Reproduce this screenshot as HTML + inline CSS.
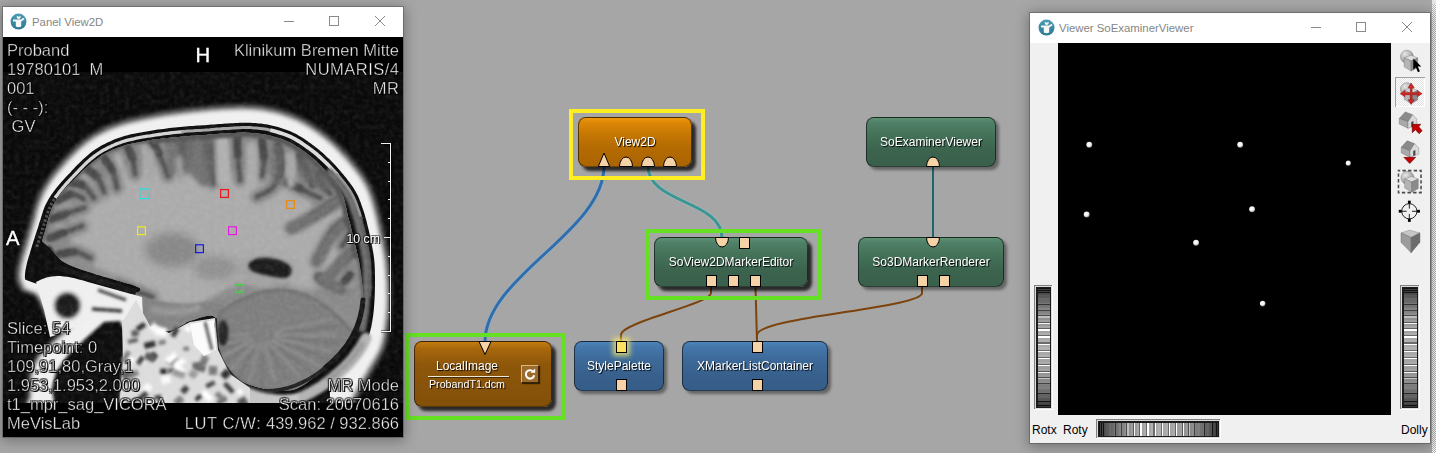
<!DOCTYPE html>
<html><head><meta charset="utf-8"><title>MeVisLab</title>
<style>
html,body{margin:0;padding:0;}
body{width:1436px;height:453px;overflow:hidden;background:#a6a6a6;position:relative;font-family:"Liberation Sans",sans-serif;}
.abs{position:absolute;}
.win{position:absolute;background:#fff;box-shadow:0 0 0 1px rgba(0,0,0,0.22),0 2px 12px 2px rgba(0,0,0,0.30);}
.title{position:absolute;left:0;top:0;right:0;height:30px;background:#fff;}
.title .txt{position:absolute;top:0;height:30px;line-height:30px;font-size:11.4px;color:#858585;white-space:nowrap;}
.ctl{position:absolute;top:0;height:30px;}
/* nodes */
.node{position:absolute;border-radius:8px;box-sizing:border-box;border:1px solid rgba(0,0,0,0.55);}
.node .lbl{position:absolute;left:0;right:0;text-align:center;color:#fff;font-size:12px;line-height:14px;white-space:nowrap;text-shadow:1px 1px 1px rgba(0,0,0,0.95);opacity:.999;}
.orange{background:linear-gradient(#f29a0c 0%,#de8808 8%,#c97a04 30%,#b56b02 60%,#aa6402 100%);}
.brown{background:linear-gradient(#c47c10 0%,#a8680c 10%,#8e570a 35%,#83500a 100%);}
.green{background:linear-gradient(#5c9174 0%,#4f8067 10%,#447259 35%,#3b634d 70%,#3a604b 100%);}
.blue{background:linear-gradient(#4e84bb 0%,#4577ab 10%,#3d6a9a 35%,#38608c 70%,#365d88 100%);}
.sel{box-shadow:4px 4px 3px rgba(0,0,0,0.75);}
.unsel{box-shadow:3px 3px 3px rgba(0,0,0,0.40);}
.hl{position:absolute;box-sizing:border-box;border:4px solid #66e022;}
.hl.y{border-color:#ffee22;}
.sq{position:absolute;width:11px;height:12px;box-sizing:border-box;border:1px solid #000;background:#f5d3a6;}
/* mri text */
.mt{position:absolute;color:#f4f4f4;font-size:16.5px;line-height:19px;white-space:pre;-webkit-text-stroke:0.45px rgba(0,0,0,.85);text-shadow:1px 1px 0 #000,-1px -1px 0 rgba(0,0,0,.45),1px -1px 0 rgba(0,0,0,.45),-1px 1px 0 rgba(0,0,0,.45);}
.mt{opacity:.999;}
.mt.big{font-size:20.3px;line-height:24px;color:#fff;-webkit-text-stroke:0.35px #fff;}
.mt.r{text-align:right;right:4px;}
.ui{font-size:12px;color:#000;position:absolute;white-space:nowrap;}
</style></head>
<body>
<!-- NETWORK -->
<svg class="abs" style="left:0;top:0" width="1436" height="453" viewBox="0 0 1436 453">
  <g fill="none" stroke-linecap="round">
    <path d="M604 166 C604 232 485 276 485 342" stroke="#8fb3d6" stroke-width="4.6" opacity=".55"/>
    <path d="M604 166 C604 232 485 276 485 342" stroke="#2f6dab" stroke-width="3"/>
    <path d="M648 166 C648 204 722 200 722 238" stroke="#9ccaca" stroke-width="4.6" opacity=".5"/>
    <path d="M648 166 C648 204 722 200 722 238" stroke="#3d9495" stroke-width="3"/>
    <path d="M933 166 L933 238" stroke="#1f666b" stroke-width="2"/>
    <path d="M711 286 L711 293 C711 304 621 322 621 335 L621 342" stroke="#7c430d" stroke-width="2"/>
    <path d="M755.5 286 L757 342" stroke="#7c430d" stroke-width="2"/>
    <path d="M922 286 L922 293 C922 308 757 317 757 335 L757 342" stroke="#7c430d" stroke-width="2"/>
  </g>
</svg>
<!-- View2D -->
<div class="hl y" style="left:569px;top:109px;width:136px;height:71px;"></div>
<div class="node orange sel" style="left:578px;top:117px;width:114px;height:50px;">
  <div class="lbl" style="top:17px;">View2D</div>
</div>
<svg class="abs" style="left:590px;top:150px" width="100" height="20" viewBox="590 150 100 20">
  <g fill="#f5d3a6" stroke="#000" stroke-width="1">
    <path d="M598.3 166.5 L604 153 L609.7 166.5 Z"/>
    <path d="M619.5 166.5 A6.5 9.5 0 0 1 632.5 166.5 Z"/>
    <path d="M641.5 166.5 A6.5 9.5 0 0 1 654.5 166.5 Z"/>
    <path d="M663.5 166.5 A6.5 9.5 0 0 1 676.5 166.5 Z"/>
  </g>
</svg>
<!-- SoExaminerViewer -->
<div class="node green unsel" style="left:866px;top:117px;width:130px;height:50px;">
  <div class="lbl" style="top:17px;">SoExaminerViewer</div>
</div>
<svg class="abs" style="left:920px;top:150px" width="30" height="20" viewBox="920 150 30 20">
  <path d="M926.5 166.5 A6.5 9.5 0 0 1 939.5 166.5 Z" fill="#f5d3a6" stroke="#000"/>
</svg>
<!-- SoView2DMarkerEditor -->
<div class="hl" style="left:645px;top:229px;width:176px;height:71px;"></div>
<div class="node green sel" style="left:654px;top:237px;width:154px;height:50px;">
  <div class="lbl" style="top:17px;">SoView2DMarkerEditor</div>
</div>
<svg class="abs" style="left:710px;top:236px" width="30" height="14" viewBox="710 236 30 14">
  <path d="M715.5 237.5 A6.5 9.5 0 0 0 728.5 237.5 Z" fill="#f5d3a6" stroke="#000"/>
</svg>
<div class="sq" style="left:739px;top:237px;"></div>
<div class="sq" style="left:706px;top:275px;"></div>
<div class="sq" style="left:728px;top:275px;"></div>
<div class="sq" style="left:750px;top:275px;"></div>
<!-- So3DMarkerRenderer -->
<div class="node green unsel" style="left:858px;top:237px;width:146px;height:50px;">
  <div class="lbl" style="top:17px;">So3DMarkerRenderer</div>
</div>
<svg class="abs" style="left:920px;top:236px" width="30" height="14" viewBox="920 236 30 14">
  <path d="M926.5 237.5 A6.5 9.5 0 0 0 939.5 237.5 Z" fill="#f5d3a6" stroke="#000"/>
</svg>
<div class="sq" style="left:917px;top:275px;"></div>
<div class="sq" style="left:939px;top:275px;"></div>
<!-- LocalImage -->
<div class="hl" style="left:405px;top:333px;width:161px;height:87px;"></div>
<div class="node brown sel" style="left:414px;top:341px;width:138px;height:66px;">
  <div class="lbl" style="top:17px;left:0;right:32px;">LocalImage</div>
  <div class="abs" style="left:13px;top:33.5px;width:81px;height:1px;background:#f0e6d6;box-shadow:1px 1px 0 rgba(0,0,0,.5);"></div>
  <div class="lbl" style="top:35px;left:0;right:32px;font-size:10.7px;">ProbandT1.dcm</div>
  <div class="abs" style="left:106px;top:23px;width:18px;height:18px;box-sizing:border-box;background:#9b6b2c;border:1px solid;border-color:#dcb680 #3a2408 #3a2408 #dcb680;box-shadow:1px 1px 1px rgba(0,0,0,.6);">
    <svg class="abs" style="left:1px;top:1px" width="14" height="14" viewBox="0 0 14 14"><path d="M10.2 4.6 A4.2 4.2 0 1 0 11.2 8.2" fill="none" stroke="#fff" stroke-width="2"/><path d="M7.6 5.8 L12.2 5.8 L12.2 1.4 Z" fill="#fff"/></svg>
  </div>
</div>
<svg class="abs" style="left:475px;top:338px" width="20" height="20" viewBox="475 338 20 20">
  <path d="M479 341.5 L491 341.5 L485 354.5 Z" fill="#f5d3a6" stroke="#000"/>
</svg>
<!-- StylePalette -->
<div class="node blue unsel" style="left:574px;top:341px;width:90px;height:50px;">
  <div class="lbl" style="top:17px;">StylePalette</div>
</div>
<div class="sq" style="left:616px;top:341px;background:#fbe15f;box-shadow:0 0 5px 3px rgba(255,236,100,.75);"></div>
<div class="sq" style="left:616px;top:379px;"></div>
<!-- XMarkerListContainer -->
<div class="node blue unsel" style="left:682px;top:341px;width:146px;height:50px;">
  <div class="lbl" style="top:17px;">XMarkerListContainer</div>
</div>
<div class="sq" style="left:752px;top:341px;"></div>
<div class="sq" style="left:752px;top:379px;"></div>
<!-- LEFT WINDOW: Panel View2D -->
<div class="win" style="left:3px;top:7px;width:400px;height:430px;">
  <div class="title">
    <svg class="abs" style="left:7.1px;top:5.5px" width="17" height="17" viewBox="0 0 17 17">
      <defs><linearGradient id="ig" x1="0" y1="0" x2="0" y2="1"><stop offset="0" stop-color="#4b9bb4"/><stop offset="1" stop-color="#2b7893"/></linearGradient></defs>
      <circle cx="8.5" cy="8.55" r="7.95" fill="url(#ig)"/>
      <path d="M3.0 6.5 L10.9 6.4 L13.5 4.7 L14.6 6.3 L11.2 8.5 L11.2 13.5 Q8.5 14.9 5.8 13.5 L5.8 8.4 L3.0 8.4 Z" fill="#f6f6f6"/>
      <path d="M6.7 2.8 L8.7 3.8 L10.7 2.8 L10.5 5.1 Q8.7 6.8 6.9 5.1 Z" fill="#f6f6f6"/>
    </svg>
    <div class="txt" style="left:29px;">Panel View2D</div>
    <svg class="ctl" style="left:270px;" width="130" height="30" viewBox="0 0 130 30">
      <g stroke="#8a8a8a" stroke-width="1" fill="none" shape-rendering="crispEdges">
        <line x1="11" y1="14.5" x2="21" y2="14.5"/>
        <rect x="56.5" y="9.5" width="9" height="9"/>
      </g>
      <g stroke="#8a8a8a" stroke-width="1" fill="none">
        <line x1="102" y1="9" x2="112" y2="19"/><line x1="112" y1="9" x2="102" y2="19"/>
      </g>
    </svg>
  </div>
  <div class="abs" style="left:0;top:30px;width:400px;height:400px;background:#000;overflow:hidden;">
    <svg class="abs" style="left:0;top:0" width="400" height="399" viewBox="3 37 400 399">
<defs>
<filter id="b1" filterUnits="userSpaceOnUse" x="3" y="37" width="400" height="399"><feGaussianBlur stdDeviation="0.75"/></filter>
<filter id="b2" filterUnits="userSpaceOnUse" x="3" y="37" width="400" height="399"><feGaussianBlur stdDeviation="2.2"/></filter>
<filter id="b3" filterUnits="userSpaceOnUse" x="3" y="37" width="400" height="399"><feGaussianBlur stdDeviation="1.4"/></filter>
<filter id="b4" filterUnits="userSpaceOnUse" x="3" y="37" width="400" height="399"><feGaussianBlur stdDeviation="2.7"/></filter>
<filter id="b5" filterUnits="userSpaceOnUse" x="3" y="37" width="400" height="399"><feGaussianBlur stdDeviation="4"/></filter>
<filter id="nz" x="0" y="0" width="100%" height="100%"><feTurbulence type="fractalNoise" baseFrequency="0.2" numOctaves="2" seed="3"/><feColorMatrix type="matrix" values="0 0 0 0 1  0 0 0 0 1  0 0 0 0 1  .10 .10 0 0 -.082"/></filter>
<clipPath id="imgclip"><rect x="3" y="72" width="400" height="331"/></clipPath>
<clipPath id="brainclip"><path d="M42.1 241.3 L42.7 239.1 L43.3 236.8 L43.9 234.6 L44.6 232.3 L45.2 230.1 L45.8 227.9 L46.3 225.7 L47.0 223.4 L47.7 221.2 L48.3 219.1 L48.8 217.2 L49.4 215.3 L49.9 213.6 L50.4 212.0 L50.9 210.5 L51.4 209.1 L52.0 207.7 L52.8 206.1 L53.6 204.6 L54.5 203.1 L55.3 201.6 L56.2 200.3 L57.1 198.9 L58.0 197.6 L58.9 196.2 L59.9 194.9 L61.0 193.5 L62.2 192.1 L63.5 190.6 L64.9 189.1 L66.4 187.5 L67.9 185.8 L69.6 184.1 L71.2 182.4 L72.9 180.7 L74.7 179.0 L76.4 177.3 L78.1 175.6 L79.9 173.8 L81.6 172.0 L83.4 170.3 L85.2 168.6 L87.0 167.0 L88.7 165.4 L90.4 163.9 L92.0 162.6 L93.6 161.4 L95.1 160.1 L96.7 159.0 L98.1 157.9 L99.5 156.9 L100.9 156.0 L102.3 155.1 L103.7 154.3 L105.2 153.5 L106.7 152.6 L108.4 151.8 L110.1 151.0 L111.9 150.1 L113.8 149.3 L115.7 148.6 L117.6 147.8 L119.6 147.1 L121.6 146.4 L123.7 145.7 L125.8 145.0 L128.0 144.4 L130.1 143.9 L132.4 143.4 L134.8 142.9 L137.3 142.4 L139.9 141.9 L142.7 141.4 L145.4 141.0 L148.3 140.5 L151.1 140.1 L154.0 139.6 L156.7 139.2 L159.4 138.9 L162.2 138.6 L165.0 138.2 L167.9 137.9 L170.7 137.6 L173.5 137.4 L176.3 137.1 L179.1 136.9 L181.7 136.6 L184.3 136.4 L186.7 136.2 L189.1 136.0 L191.5 135.8 L193.8 135.7 L196.2 135.5 L198.5 135.4 L200.8 135.2 L203.2 135.1 L205.6 135.0 L208.0 134.8 L210.4 134.5 L212.8 134.3 L215.1 134.1 L217.4 134.0 L219.6 133.8 L221.9 133.6 L224.1 133.5 L226.3 133.4 L228.5 133.3 L230.9 133.1 L233.3 133.0 L235.6 132.9 L237.8 132.8 L239.9 132.7 L242.0 132.6 L244.0 132.6 L245.9 132.6 L247.8 132.7 L249.6 132.7 L251.6 132.9 L253.7 133.0 L255.8 133.2 L257.8 133.4 L259.7 133.7 L261.7 133.9 L263.5 134.2 L265.4 134.6 L267.2 135.0 L269.0 135.4 L270.9 135.8 L272.9 136.3 L274.9 136.9 L276.9 137.5 L279.0 138.2 L281.0 138.8 L283.0 139.6 L284.9 140.3 L286.8 141.0 L288.5 141.7 L290.0 142.5 L291.4 143.2 L292.7 143.9 L294.1 144.7 L295.5 145.6 L296.9 146.4 L298.4 147.4 L299.9 148.5 L301.5 149.6 L303.2 150.8 L304.9 152.0 L306.5 153.2 L308.1 154.4 L309.6 155.6 L311.2 156.8 L312.6 158.1 L314.1 159.3 L315.6 160.6 L317.0 162.0 L318.5 163.3 L320.0 164.9 L321.5 166.5 L323.1 168.3 L324.8 170.1 L326.4 172.0 L328.0 173.9 L329.6 175.8 L331.2 177.7 L332.7 179.6 L334.1 181.4 L335.4 183.4 L336.7 185.3 L338.0 187.2 L339.1 188.9 L340.1 190.6 L341.0 192.2 L341.8 193.8 L342.6 195.2 L343.2 196.6 L343.7 197.9 L344.1 199.2 L344.5 200.6 L344.9 202.0 L345.2 203.5 L345.6 205.1 L346.0 206.9 L346.4 208.9 L346.8 211.0 L347.2 213.3 L347.7 215.6 L348.3 217.7 L348.9 219.7 L349.5 221.8 L350.1 224.1 L350.7 226.4 L351.2 228.8 L351.8 231.3 L352.4 233.9 L353.0 236.6 L353.7 239.4 L354.4 242.3 L355.1 245.1 L355.8 247.8 L356.5 250.4 L357.1 252.9 L357.7 255.4 L358.3 257.8 L358.8 260.3 L359.3 262.8 L359.7 265.4 L360.2 268.4 L360.7 271.7 L361.2 275.1 L361.6 278.8 L362.0 282.5 L362.4 286.2 L362.8 289.8 L363.1 293.4 L363.3 296.7 L363.5 299.8 L362.0 300.0 L361.4 305.0 L361.1 310.0 L360.8 314.9 L360.1 319.9 L359.0 324.9 L357.0 330.0 L354.0 335.2 L350.3 340.5 L346.1 345.8 L341.4 351.1 L336.7 356.2 L332.0 361.0 L327.2 365.8 L322.1 370.5 L316.8 375.2 L311.6 379.4 L306.6 383.1 L302.0 386.0 L298.0 388.1 L294.4 389.4 L291.0 390.2 L287.6 390.5 L284.0 390.6 L280.0 390.5 L275.4 390.3 L270.3 389.7 L265.0 388.9 L259.7 387.8 L254.6 386.5 L250.0 385.0 L245.8 383.3 L241.9 381.5 L238.2 379.4 L234.7 377.0 L231.5 374.4 L228.7 371.5 L226.2 368.2 L224.0 364.7 L222.1 360.8 L220.4 356.8 L219.0 352.5 L217.8 348.0 L217.1 342.9 L217.1 336.9 L217.2 330.8 L217.2 325.0 L216.6 320.2 L215.0 317.0 L212.0 315.6 L207.9 315.7 L203.1 316.7 L198.3 318.2 L194.0 319.7 L190.6 320.8 L188.4 321.5 L186.9 322.1 L185.9 322.8 L185.0 323.5 L184.0 324.2 L182.5 325.0 L180.6 326.0 L178.6 327.3 L176.4 328.6 L174.1 329.7 L171.6 330.6 L169.0 331.0 L166.1 331.0 L162.9 330.7 L159.5 330.1 L156.2 329.1 L152.9 327.8 L150.0 326.0 L147.3 323.6 L144.6 320.4 L142.1 316.9 L139.8 313.3 L137.8 309.9 L136.0 307.0 L134.5 304.6 L133.1 302.5 L132.1 300.6 L131.3 298.9 L130.9 297.4 L131.0 296.0 L131.8 294.8 L133.4 293.9 L135.4 293.1 L137.4 292.4 L139.1 291.7 L140.0 291.0 L140.4 290.2 L140.5 289.5 L140.3 288.9 L139.7 288.1 L138.4 287.3 L136.5 286.4 L133.6 285.3 L129.9 284.1 L125.5 282.9 L120.9 281.6 L116.3 280.3 L112.0 279.0 L108.0 277.8 L104.0 276.7 L100.0 275.6 L96.0 274.4 L92.0 273.1 L88.0 271.8 L83.9 270.4 L79.6 268.9 L75.3 267.4 L71.1 265.7 L67.2 263.9 L63.7 262.0 L60.7 259.9 L58.1 257.5 L55.8 255.0 L53.5 252.5 L51.3 250.0 L49.0 247.5 Z"/></clipPath>
</defs>
<rect x="3" y="72" width="400" height="331" fill="#0a0a0a"/>
<g clip-path="url(#imgclip)"><g filter="url(#b1)">
<path d="M21.5 288.4 L21.0 287.4 L20.5 286.4 L20.0 285.4 L19.6 284.5 L19.1 283.6 L18.7 282.7 L18.3 281.8 L18.0 280.9 L17.7 279.9 L17.6 278.8 L17.5 277.7 L17.5 276.4 L17.5 275.1 L17.6 273.8 L17.7 272.4 L17.9 270.9 L18.1 269.4 L18.4 267.7 L18.7 266.1 L19.1 264.3 L19.5 262.5 L20.0 260.6 L20.5 258.6 L21.1 256.5 L21.7 254.4 L22.4 252.2 L23.1 250.0 L23.7 247.8 L24.4 245.6 L25.0 243.5 L25.7 241.3 L26.3 239.1 L27.0 236.9 L27.6 234.6 L28.3 232.4 L29.0 230.1 L29.6 227.9 L30.3 225.7 L30.9 223.6 L31.5 221.4 L32.1 219.4 L32.7 217.3 L33.2 215.3 L33.7 213.4 L34.1 211.4 L34.6 209.5 L35.2 207.6 L35.7 205.8 L36.3 203.9 L37.0 202.1 L37.7 200.2 L38.5 198.4 L39.2 196.6 L40.0 194.8 L40.8 193.0 L41.7 191.2 L42.6 189.4 L43.6 187.6 L44.7 185.7 L45.8 183.9 L47.1 181.9 L48.4 180.0 L49.9 178.0 L51.4 176.0 L52.9 174.0 L54.5 172.0 L56.2 170.0 L57.8 168.0 L59.5 166.0 L61.2 164.1 L62.9 162.1 L64.7 160.1 L66.5 158.1 L68.4 156.1 L70.2 154.2 L72.1 152.2 L74.0 150.4 L75.9 148.6 L77.7 146.8 L79.5 145.2 L81.4 143.7 L83.1 142.2 L84.9 140.8 L86.6 139.5 L88.4 138.2 L90.1 137.0 L91.9 135.8 L93.8 134.7 L95.7 133.5 L97.8 132.4 L99.9 131.3 L102.0 130.2 L104.2 129.1 L106.5 128.1 L108.8 127.1 L111.1 126.1 L113.5 125.2 L115.9 124.2 L118.4 123.4 L121.0 122.5 L123.6 121.7 L126.3 121.0 L129.1 120.2 L131.9 119.5 L134.8 118.9 L137.7 118.2 L140.6 117.6 L143.5 117.0 L146.4 116.4 L149.3 115.9 L152.2 115.3 L155.1 114.8 L158.1 114.3 L161.0 113.8 L164.0 113.3 L166.9 112.8 L169.8 112.4 L172.7 112.0 L175.5 111.6 L178.2 111.2 L180.9 110.8 L183.5 110.5 L186.0 110.2 L188.5 109.9 L191.0 109.6 L193.4 109.3 L195.8 109.1 L198.3 108.9 L200.7 108.6 L203.1 108.4 L205.6 108.2 L208.0 107.9 L210.5 107.7 L212.9 107.5 L215.3 107.3 L217.7 107.2 L220.1 107.0 L222.6 106.8 L225.0 106.7 L227.4 106.6 L229.8 106.5 L232.2 106.4 L234.6 106.3 L237.0 106.2 L239.4 106.2 L241.8 106.1 L244.2 106.1 L246.6 106.2 L249.0 106.3 L251.4 106.4 L253.8 106.6 L256.2 106.8 L258.6 107.0 L261.0 107.3 L263.4 107.6 L265.8 108.0 L268.2 108.4 L270.6 108.9 L273.0 109.4 L275.4 110.0 L277.8 110.6 L280.3 111.3 L282.7 112.0 L285.2 112.9 L287.7 113.7 L290.1 114.6 L292.5 115.5 L294.9 116.5 L297.1 117.5 L299.3 118.4 L301.4 119.4 L303.4 120.5 L305.3 121.5 L307.2 122.6 L309.0 123.7 L310.8 124.9 L312.6 126.0 L314.4 127.2 L316.2 128.5 L318.1 129.8 L319.9 131.1 L321.8 132.5 L323.6 133.8 L325.5 135.2 L327.3 136.7 L329.1 138.2 L330.9 139.7 L332.7 141.3 L334.6 142.9 L336.4 144.7 L338.2 146.5 L340.1 148.4 L342.0 150.3 L343.9 152.4 L345.8 154.5 L347.7 156.6 L349.6 158.7 L351.4 160.8 L353.1 162.9 L354.7 165.0 L356.3 167.0 L357.9 169.0 L359.4 171.0 L360.9 173.0 L362.3 175.0 L363.7 177.0 L365.0 179.1 L366.3 181.1 L367.5 183.1 L368.6 185.2 L369.6 187.3 L370.5 189.4 L371.4 191.6 L372.2 193.7 L373.0 195.9 L373.7 198.1 L374.4 200.4 L375.1 202.7 L375.8 205.0 L376.5 207.4 L377.1 209.9 L377.8 212.3 L378.4 214.8 L379.0 217.4 L379.6 219.9 L380.2 222.6 L380.7 225.2 L381.3 227.9 L381.9 230.6 L382.4 233.3 L383.0 236.1 L383.6 238.8 L384.2 241.5 L384.8 244.3 L385.4 247.1 L386.0 249.9 L386.5 252.8 L387.1 255.8 L387.5 258.9 L387.9 262.2 L388.3 265.6 L388.6 269.3 L388.9 273.1 L389.2 277.0 L389.4 281.0 L389.6 285.0 L389.7 289.0 L389.8 292.8 L389.9 296.5 L389.9 300.0 L389.8 303.3 L389.7 306.6 L389.6 309.8 L389.3 312.9 L389.1 315.9 L388.8 318.9 L388.5 321.8 L388.1 324.5 L387.8 327.2 L387.4 329.8 L387.0 332.2 L386.7 334.5 L386.3 336.6 L385.9 338.7 L385.4 340.6 L385.0 342.5 L384.5 344.4 L383.9 346.2 L383.2 348.1 L382.5 350.0 L381.7 351.9 L380.8 353.8 L379.8 355.7 L378.8 357.6 L377.7 359.4 L376.6 361.3 L375.4 363.2 L374.3 365.1 L373.1 367.0 L372.0 368.9 L370.9 370.8 L369.8 372.8 L368.7 374.7 L367.6 376.7 L366.5 378.6 L365.4 380.6 L364.3 382.5 L363.2 384.4 L362.2 386.2 L361.2 387.9 L360.3 389.6 L359.4 391.2 L358.5 392.8 L357.7 394.3 L356.9 395.8 L356.1 397.3 L355.4 398.8 L354.6 400.2 L353.8 401.7 L353.0 403.2 L354.4 404.0 L345.9 405.1 L338.0 406.2 L330.0 407.4 L321.5 408.4 L311.7 409.3 L300.0 410.0 L286.0 410.3 L270.0 410.4 L252.8 410.4 L235.0 410.2 L217.2 410.1 L200.0 410.0 L183.0 410.0 L165.5 410.0 L148.0 410.0 L131.0 410.0 L114.8 410.0 L100.0 410.0 L86.1 410.2 L72.5 410.6 L59.9 410.9 L48.6 411.1 L39.1 410.9 L32.0 410.0 L27.8 408.4 L26.4 406.1 L26.8 403.4 L28.1 400.6 L29.5 397.7 L30.0 395.0 L29.8 392.5 L29.7 390.0 L29.6 387.5 L29.6 385.0 L29.7 382.5 L30.0 380.0 L30.4 377.5 L30.9 374.9 L31.5 372.4 L32.2 369.9 L33.1 367.4 L34.0 365.0 L35.0 362.7 L36.2 360.5 L37.4 358.3 L38.8 356.2 L40.3 354.1 L42.0 352.0 L43.9 349.9 L46.0 347.9 L48.2 345.9 L50.5 343.9 L52.8 341.9 L55.0 340.0 L57.3 338.1 L59.7 336.1 L62.2 334.1 L64.5 332.3 L66.5 330.5 L68.0 329.0 L69.1 327.7 L70.0 326.4 L70.6 325.4 L70.8 324.4 L70.6 323.7 L70.0 323.0 L68.8 322.6 L67.0 322.4 L64.8 322.4 L62.4 322.4 L60.0 322.3 L58.0 322.0 L56.2 321.6 L54.3 321.1 L52.5 320.6 L50.8 319.9 L49.3 319.0 L48.0 318.0 L47.0 316.7 L46.2 315.2 L45.6 313.6 L45.1 311.8 L44.4 309.9 L43.6 308.0 L42.6 305.9 L41.5 303.6 L40.4 301.1 L39.1 298.8 L37.9 296.7 L36.5 295.0 L35.1 293.8 L33.5 293.0 L31.9 292.4 L30.3 292.0 L28.6 291.6 L27.0 291.0 Z" fill="#f0f0f0" filter="url(#b4)"/>
<path d="M22.0 288.1 L21.6 287.1 L21.1 286.1 L20.6 285.1 L20.1 284.2 L19.6 283.3 L19.2 282.5 L18.9 281.6 L18.6 280.7 L18.3 279.8 L18.2 278.8 L18.1 277.6 L18.1 276.4 L18.1 275.1 L18.2 273.8 L18.3 272.4 L18.5 271.0 L18.7 269.4 L19.0 267.9 L19.3 266.2 L19.7 264.5 L20.1 262.7 L20.5 260.8 L21.1 258.8 L21.7 256.7 L22.3 254.6 L23.0 252.4 L23.6 250.2 L24.3 248.0 L25.0 245.8 L25.6 243.6 L26.2 241.4 L26.9 239.2 L27.6 237.0 L28.2 234.8 L28.9 232.5 L29.6 230.3 L30.2 228.1 L30.9 225.9 L31.5 223.7 L32.1 221.6 L32.7 219.5 L33.2 217.5 L33.7 215.5 L34.2 213.5 L34.7 211.6 L35.2 209.7 L35.7 207.8 L36.3 206.0 L36.9 204.1 L37.6 202.3 L38.3 200.4 L39.0 198.6 L39.8 196.8 L40.5 195.0 L41.4 193.2 L42.2 191.4 L43.2 189.7 L44.1 187.9 L45.2 186.0 L46.4 184.2 L47.6 182.3 L48.9 180.3 L50.4 178.4 L51.8 176.4 L53.4 174.4 L55.0 172.4 L56.6 170.4 L58.3 168.4 L60.0 166.4 L61.7 164.4 L63.4 162.5 L65.1 160.5 L66.9 158.5 L68.8 156.5 L70.6 154.6 L72.5 152.7 L74.4 150.8 L76.3 149.0 L78.1 147.3 L79.9 145.7 L81.7 144.1 L83.5 142.7 L85.2 141.3 L87.0 140.0 L88.7 138.7 L90.5 137.5 L92.3 136.3 L94.1 135.2 L96.0 134.1 L98.1 132.9 L100.1 131.8 L102.3 130.7 L104.5 129.7 L106.7 128.6 L109.0 127.6 L111.3 126.7 L113.7 125.7 L116.1 124.8 L118.6 123.9 L121.2 123.1 L123.8 122.3 L126.4 121.5 L129.2 120.8 L132.0 120.1 L134.9 119.5 L137.8 118.8 L140.7 118.2 L143.6 117.6 L146.5 117.0 L149.4 116.5 L152.3 115.9 L155.2 115.4 L158.2 114.9 L161.1 114.4 L164.1 113.9 L167.0 113.4 L169.9 113.0 L172.8 112.6 L175.6 112.2 L178.3 111.8 L181.0 111.4 L183.5 111.1 L186.1 110.8 L188.6 110.5 L191.0 110.2 L193.5 109.9 L195.9 109.7 L198.3 109.5 L200.8 109.2 L203.2 109.0 L205.7 108.8 L208.1 108.5 L210.5 108.3 L213.0 108.1 L215.4 107.9 L217.8 107.8 L220.2 107.6 L222.6 107.4 L225.0 107.3 L227.4 107.2 L229.8 107.1 L232.2 107.0 L234.6 106.9 L237.0 106.8 L239.4 106.8 L241.8 106.7 L244.2 106.7 L246.6 106.8 L249.0 106.9 L251.4 107.0 L253.7 107.2 L256.1 107.4 L258.5 107.6 L260.9 107.9 L263.3 108.2 L265.7 108.6 L268.1 109.0 L270.5 109.5 L272.9 110.0 L275.3 110.5 L277.7 111.2 L280.1 111.9 L282.6 112.6 L285.0 113.4 L287.5 114.3 L289.9 115.2 L292.3 116.1 L294.6 117.0 L296.9 118.0 L299.1 119.0 L301.1 120.0 L303.1 121.0 L305.0 122.0 L306.9 123.1 L308.7 124.2 L310.5 125.4 L312.3 126.5 L314.1 127.7 L315.9 129.0 L317.7 130.3 L319.6 131.6 L321.4 133.0 L323.3 134.3 L325.1 135.7 L326.9 137.2 L328.7 138.6 L330.5 140.2 L332.3 141.7 L334.2 143.4 L336.0 145.1 L337.8 146.9 L339.7 148.8 L341.6 150.8 L343.5 152.8 L345.4 154.9 L347.3 157.0 L349.1 159.1 L350.9 161.2 L352.6 163.3 L354.3 165.4 L355.9 167.4 L357.4 169.4 L359.0 171.4 L360.4 173.4 L361.9 175.4 L363.2 177.4 L364.5 179.4 L365.8 181.4 L366.9 183.4 L368.0 185.5 L369.1 187.6 L370.0 189.7 L370.9 191.8 L371.7 193.9 L372.4 196.1 L373.1 198.3 L373.8 200.6 L374.5 202.9 L375.2 205.2 L375.9 207.6 L376.6 210.0 L377.2 212.5 L377.8 215.0 L378.4 217.5 L379.0 220.1 L379.6 222.7 L380.1 225.3 L380.7 228.0 L381.3 230.7 L381.8 233.5 L382.4 236.2 L383.0 238.9 L383.6 241.7 L384.3 244.4 L384.8 247.2 L385.4 250.0 L386.0 252.9 L386.5 255.9 L386.9 259.0 L387.3 262.2 L387.7 265.7 L388.0 269.3 L388.3 273.2 L388.6 277.1 L388.8 281.1 L389.0 285.0 L389.1 289.0 L389.2 292.8 L389.3 296.5 L389.3 300.0 L389.2 303.3 L389.1 306.6 L389.0 309.8 L388.8 312.9 L388.5 315.9 L388.2 318.8 L387.9 321.7 L387.5 324.4 L387.2 327.1 L386.8 329.7 L386.5 332.1 L386.1 334.4 L385.7 336.5 L385.3 338.5 L384.9 340.5 L384.4 342.4 L383.9 344.2 L383.3 346.0 L382.7 347.9 L382.0 349.8 L381.2 351.7 L380.3 353.5 L379.3 355.4 L378.3 357.3 L377.2 359.1 L376.0 361.0 L374.9 362.9 L373.7 364.8 L372.6 366.7 L371.5 368.6 L370.4 370.5 L369.3 372.5 L368.2 374.4 L367.1 376.4 L365.9 378.3 L364.8 380.3 L363.7 382.2 L362.7 384.1 L361.7 385.9 L360.7 387.6 L359.7 389.3 L358.9 390.9 L358.0 392.5 L357.2 394.1 L356.4 395.5 L355.6 397.0 L354.8 398.5 L354.1 400.0 L353.3 401.5 L352.5 403.0" fill="none" stroke="#000" stroke-width="5.5" opacity=".38" filter="url(#b2)"/>
<path d="M25.4 279.7 L25.2 279.2 L25.1 278.8 L25.0 278.5 L24.9 278.0 L24.9 277.3 L24.9 276.4 L24.9 275.4 L25.0 274.3 L25.1 273.2 L25.2 271.9 L25.4 270.5 L25.7 269.1 L26.0 267.5 L26.3 265.9 L26.7 264.2 L27.1 262.5 L27.6 260.6 L28.2 258.6 L28.8 256.5 L29.5 254.4 L30.1 252.2 L30.8 250.0 L31.5 247.7 L32.1 245.5 L32.8 243.4 L33.5 241.2 L34.2 239.0 L34.9 236.8 L35.6 234.5 L36.4 232.3 L37.1 230.1 L37.8 227.9 L38.5 225.8 L39.1 223.6 L39.8 221.5 L40.5 219.4 L41.1 217.3 L41.7 215.4 L42.3 213.5 L42.8 211.7 L43.4 210.0 L44.0 208.4 L44.6 206.8 L45.3 205.2 L46.2 203.5 L47.1 201.9 L47.9 200.3 L48.8 198.7 L49.8 197.2 L50.7 195.7 L51.7 194.2 L52.8 192.7 L53.9 191.2 L55.0 189.7 L56.3 188.1 L57.6 186.5 L59.0 184.7 L60.5 183.0 L62.1 181.2 L63.7 179.4 L65.4 177.6 L67.1 175.8 L68.8 174.0 L70.6 172.2 L72.2 170.3 L74.0 168.5 L75.7 166.6 L77.5 164.8 L79.3 162.9 L81.1 161.2 L82.9 159.5 L84.6 157.9 L86.3 156.4 L88.0 154.9 L89.7 153.6 L91.3 152.3 L92.9 151.1 L94.4 150.0 L95.9 149.0 L97.5 148.0 L99.1 147.0 L100.7 146.1 L102.4 145.1 L104.2 144.2 L106.1 143.2 L108.0 142.3 L110.0 141.4 L112.0 140.5 L114.1 139.6 L116.2 138.8 L118.4 138.0 L120.6 137.2 L122.9 136.5 L125.2 135.8 L127.6 135.2 L130.0 134.6 L132.5 134.0 L135.2 133.5 L137.9 132.9 L140.7 132.4 L143.6 131.9 L146.4 131.4 L149.3 131.0 L152.2 130.5 L155.0 130.1 L157.8 129.6 L160.6 129.2 L163.5 128.9 L166.4 128.5 L169.3 128.1 L172.1 127.8 L174.9 127.5 L177.7 127.2 L180.4 126.9 L183.0 126.7 L185.5 126.5 L187.9 126.3 L190.4 126.1 L192.8 125.9 L195.1 125.8 L197.5 125.6 L199.9 125.5 L202.3 125.3 L204.7 125.2 L207.1 125.0 L209.6 124.8 L211.9 124.6 L214.3 124.4 L216.6 124.2 L218.9 124.0 L221.2 123.9 L223.5 123.7 L225.8 123.6 L228.1 123.5 L230.5 123.3 L232.9 123.2 L235.2 123.0 L237.5 122.9 L239.8 122.8 L241.9 122.7 L244.1 122.7 L246.2 122.7 L248.2 122.7 L250.3 122.8 L252.5 122.9 L254.7 123.0 L256.9 123.2 L259.0 123.4 L261.2 123.6 L263.3 123.9 L265.4 124.2 L267.4 124.5 L269.5 124.9 L271.5 125.4 L273.6 125.9 L275.8 126.4 L278.0 127.1 L280.2 127.7 L282.4 128.5 L284.6 129.2 L286.8 130.0 L288.9 130.8 L290.9 131.6 L292.8 132.4 L294.5 133.2 L296.2 134.1 L297.8 135.0 L299.3 135.9 L300.9 136.8 L302.5 137.8 L304.1 138.8 L305.7 140.0 L307.4 141.1 L309.2 142.4 L310.9 143.6 L312.7 144.9 L314.3 146.1 L316.0 147.4 L317.7 148.7 L319.3 150.0 L320.9 151.4 L322.5 152.8 L324.1 154.3 L325.7 155.8 L327.4 157.4 L329.2 159.0 L331.0 160.8 L332.8 162.7 L334.6 164.6 L336.4 166.6 L338.1 168.5 L339.9 170.5 L341.5 172.4 L343.1 174.3 L344.7 176.2 L346.2 178.1 L347.6 179.9 L349.0 181.7 L350.3 183.4 L351.6 185.2 L352.7 186.8 L353.8 188.5 L354.8 190.2 L355.8 191.8 L356.6 193.4 L357.5 195.0 L358.3 196.7 L359.1 198.5 L359.8 200.4 L360.6 202.3 L361.3 204.4 L362.0 206.5 L362.8 208.8 L363.6 211.1 L364.3 213.3 L365.0 215.6 L365.6 217.9 L366.3 220.3 L366.9 222.8 L367.5 225.3 L368.2 227.9 L368.8 230.5 L369.4 233.2 L370.1 235.9 L370.6 238.8 L371.2 241.6 L371.7 244.3 L372.2 247.0 L372.7 249.7 L373.2 252.4 L373.6 255.1 L374.0 257.9 L374.3 260.7 L374.6 263.7 L374.7 266.9 L374.9 270.5 L374.9 274.1 L375.0 277.9 L375.0 281.8 L375.0 285.6 L374.9 289.4 L374.8 293.1 L374.7 296.6 L374.5 299.9 L374.3 302.9 L374.1 305.9 L373.9 308.8 L373.6 311.7 L373.3 314.5 L372.9 317.2 L372.5 319.9 L372.1 322.5 L371.6 325.0 L371.2 327.4 L370.6 329.6 L370.1 331.6 L369.6 333.5 L369.1 335.1 L368.5 336.6 L368.0 338.0 L367.4 339.3 L366.8 340.6 L366.1 341.9 L365.4 343.2 L364.6 344.2 L363.6 345.2 L362.6 346.4 L361.4 347.6 L360.1 349.0 L358.8 350.5 L357.3 352.1 L355.8 353.9 L354.1 355.9 L352.5 357.8 L351.1 359.6 L349.7 361.3 L348.2 363.0 L346.8 364.8 L345.3 366.5 L343.8 368.3 L342.4 370.0 L340.9 371.7 L339.5 373.5 L338.1 375.1 L336.9 376.8 L335.8 378.5 L334.8 380.0 L333.7 381.5 L332.7 383.0 L331.7 384.4 L330.8 385.8 L329.8 387.1 L330.0 404.0 L128.0 404.0 L128.0 318.0 L90.0 300.0 L60.0 290.0 L40.0 285.0 Z" fill="#0c0c0c"/>
<path d="M36.8 246.9 L37.5 244.8 L38.2 242.6 L38.9 240.4 L39.6 238.2 L40.3 235.9 L41.1 233.7 L41.8 231.5 L42.5 229.3 L43.2 227.1 L43.8 225.0 L44.6 222.7 L45.2 220.6 L45.9 218.5 L46.5 216.6 L47.0 214.7 L47.6 213.0 L48.1 211.4 L48.7 209.8 L49.3 208.4 L49.9 206.9 L50.7 205.3 L51.6 203.7 L52.5 202.2 L53.3 200.7 L54.2 199.3 L55.1 197.9 L56.0 196.5" fill="none" stroke="#4c4c4c" stroke-width="3" stroke-dasharray="2.6 1.8"/>
<path d="M55.1 197.9 L56.0 196.5 L57.0 195.2 L58.1 193.8 L59.2 192.3 L60.3 190.8 L61.6 189.3 L63.0 187.6 L64.4 186.0 L65.9 184.2 L67.5 182.5 L69.2 180.7 L70.8 178.9 L72.5 177.2 L74.2 175.4 L75.9 173.6 L77.6 171.8 L79.4 169.9 L81.1 168.1 L82.9 166.3 L84.6 164.6 L86.3 163.0 L88.0 161.4 L89.6 160.0 L91.2 158.6 L92.8 157.4 L94.4 156.1 L95.9 155.0 L97.3 154.0 L98.8 153.0 L100.2 152.1 L101.7 151.1 L103.2 150.3 L104.8 149.4 L106.6 148.5 L108.4 147.5 L110.2 146.7 L112.1 145.8 L114.0 145.0 L116.0 144.1 L118.1 143.3 L120.2 142.6 L122.3 141.8 L124.5 141.1 L126.7 140.4 L128.9 139.9 L131.3 139.3 L133.8 138.8 L136.3 138.2 L139.0 137.7 L141.7 137.2 L144.5 136.7 L147.4 136.2 L150.3 135.8 L153.1 135.3 L155.9 134.9 L158.6 134.5 L161.5 134.1 L164.3 133.7 L167.2 133.3 L170.0 133.0 L172.8 132.7 L175.6 132.4 L178.4 132.1 L181.1 131.8 L183.6 131.5" fill="none" stroke="#d4d4d4" stroke-width="3.3"/>
<path d="M181.1 131.8 L183.6 131.5 L186.1 131.3 L188.5 131.1 L190.9 130.9 L193.3 130.8 L195.6 130.6 L198.0 130.5 L200.4 130.4 L202.8 130.2 L205.2 130.1 L207.6 129.9 L210.0 129.7 L212.4 129.4 L214.7 129.3 L217.0 129.1 L219.3 128.9 L221.6 128.7 L223.8 128.6 L226.0 128.5 L228.3 128.4 L230.7 128.2 L233.1 128.1 L235.4 127.9 L237.7 127.8 L239.8 127.7 L242.0 127.6 L244.0 127.6 L246.0 127.6 L248.0 127.6 L250.0 127.6 L252.1 127.8 L254.2 127.9 L256.3 128.1 L258.4 128.3 L260.5 128.5 L262.5 128.7 L264.5 129.0 L266.5 129.3 L268.4 129.7 L270.3 130.1 L272.3 130.6" fill="none" stroke="#a4a4a4" stroke-width="3"/>
<path d="M270.3 130.1 L272.3 130.6 L274.4 131.1 L276.5 131.7 L278.6 132.4 L280.8 133.1 L282.9 133.8 L285.0 134.5 L287.0 135.3 L288.9 136.1 L290.7 136.8 L292.4 137.6 L293.9 138.4 L295.4 139.2 L296.8 140.1 L298.3 141.0 L299.8 141.9 L301.3 142.9 L302.9 144.0 L304.6 145.2 L306.3 146.4 L308.1 147.6 L309.7 148.8 L311.4 150.0 L313.0 151.3 L314.6 152.5 L316.2 153.8 L317.7 155.1 L319.3 156.5 L320.8 157.9 L322.3 159.3 L324.0 160.8 L325.7 162.5 L327.4 164.2 L329.2 166.0 L330.9 167.9 L332.7 169.8 L334.4 171.7 L336.1 173.6 L337.7 175.5" fill="none" stroke="#dcdcdc" stroke-width="3.8"/>
<path d="M336.1 173.6 L337.7 175.5 L339.3 177.3 L340.8 179.2 L342.3 181.1 L343.7 182.8 L345.1 184.6 L346.3 186.3 L347.5 187.9 L348.6 189.5 L349.6 191.0 L350.5 192.5 L351.4 194.0 L352.2 195.5 L353.0 196.9 L353.7 198.5 L354.4 200.2 L355.2 201.9 L355.9 203.8 L356.6 205.8 L357.3 207.9 L358.1 210.2 L358.9 212.4 L359.6 214.6 L360.2 216.8 L360.9 219.1" fill="none" stroke="#b0b0b0" stroke-width="3.4"/>
<path d="M360.2 216.8 L360.9 219.1 L361.5 221.4 L362.1 223.8 L362.8 226.3 L363.4 228.9 L364.0 231.5 L364.7 234.2 L365.3 236.9 L365.8 239.8 L366.4 242.6 L366.9 245.4 L367.4 248.1 L367.9 250.7 L368.4 253.3 L368.8 256.0 L369.1 258.6 L369.5 261.4 L369.7 264.2 L369.9 267.4 L370.0 270.9 L370.1 274.5 L370.1 278.2 L370.1 282.0 L370.1 285.8 L370.1 289.6 L369.9 293.2 L369.8 296.7" fill="none" stroke="#4a4a4a" stroke-width="3"/>
<path d="M330.0 172.2 L331.7 174.0 L333.3 175.9 L334.9 177.7 L336.4 179.6 L338.0 181.4 L339.4 183.2 L340.8 185.0 L342.2 186.7 L343.4 188.3 L344.5 189.9 L345.6 191.4 L346.5 192.9 L347.4 194.3 L348.2 195.6 L348.9 197.0 L349.7 198.4 L350.4 199.8 L351.1 201.4 L351.8 203.1 L352.5 204.9 L353.2 206.8 L353.9 208.9 L354.6 211.2 L355.4 213.4 L356.1 215.6 L356.7 217.7 L357.4 219.9 L358.0 222.2 L358.6 224.6 L359.2 227.1 L359.9 229.6 L360.5 232.2 L361.1 234.9 L361.8 237.7 L362.3 240.6 L362.9 243.4 L363.4 246.2 L363.9 248.8 L364.4 251.4 L364.8 254.0 L365.2 256.6 L365.6 259.2 L365.9 261.9 L366.2 264.7 L366.3 267.8 L366.4 271.2 L366.5 274.8 L366.5 278.5 L366.5 282.2 L366.5 286.0 L366.5 289.7 L366.3 293.3 L366.2 296.7 L366.0 299.8 L365.9 302.7 L365.7 305.5 L365.4 308.3 L365.1 311.1 L364.8 313.7 L364.4 316.3 L364.1 318.9 L363.6 321.4 L363.2 323.8 L362.8 326.1 L362.3 328.3" fill="none" stroke="#6c6c6c" stroke-width="7.5" stroke-linecap="round" filter="url(#b3)"/>
<path d="M42.1 241.3 L42.7 239.1 L43.3 236.8 L43.9 234.6 L44.6 232.3 L45.2 230.1 L45.8 227.9 L46.3 225.7 L47.0 223.4 L47.7 221.2 L48.3 219.1 L48.8 217.2 L49.4 215.3 L49.9 213.6 L50.4 212.0 L50.9 210.5 L51.4 209.1 L52.0 207.7 L52.8 206.1 L53.6 204.6 L54.5 203.1 L55.3 201.6 L56.2 200.3 L57.1 198.9 L58.0 197.6 L58.9 196.2 L59.9 194.9 L61.0 193.5 L62.2 192.1 L63.5 190.6 L64.9 189.1 L66.4 187.5 L67.9 185.8 L69.6 184.1 L71.2 182.4 L72.9 180.7 L74.7 179.0 L76.4 177.3 L78.1 175.6 L79.9 173.8 L81.6 172.0 L83.4 170.3 L85.2 168.6 L87.0 167.0 L88.7 165.4 L90.4 163.9 L92.0 162.6 L93.6 161.4 L95.1 160.1 L96.7 159.0 L98.1 157.9 L99.5 156.9 L100.9 156.0 L102.3 155.1 L103.7 154.3 L105.2 153.5 L106.7 152.6 L108.4 151.8 L110.1 151.0 L111.9 150.1 L113.8 149.3 L115.7 148.6 L117.6 147.8 L119.6 147.1 L121.6 146.4 L123.7 145.7 L125.8 145.0 L128.0 144.4 L130.1 143.9 L132.4 143.4 L134.8 142.9 L137.3 142.4 L139.9 141.9 L142.7 141.4 L145.4 141.0 L148.3 140.5 L151.1 140.1 L154.0 139.6 L156.7 139.2 L159.4 138.9 L162.2 138.6 L165.0 138.2 L167.9 137.9 L170.7 137.6 L173.5 137.4 L176.3 137.1 L179.1 136.9 L181.7 136.6 L184.3 136.4 L186.7 136.2 L189.1 136.0 L191.5 135.8 L193.8 135.7 L196.2 135.5 L198.5 135.4 L200.8 135.2 L203.2 135.1 L205.6 135.0 L208.0 134.8 L210.4 134.5 L212.8 134.3 L215.1 134.1 L217.4 134.0 L219.6 133.8 L221.9 133.6 L224.1 133.5 L226.3 133.4 L228.5 133.3 L230.9 133.1 L233.3 133.0 L235.6 132.9 L237.8 132.8 L239.9 132.7 L242.0 132.6 L244.0 132.6 L245.9 132.6 L247.8 132.7 L249.6 132.7 L251.6 132.9 L253.7 133.0 L255.8 133.2 L257.8 133.4 L259.7 133.7 L261.7 133.9 L263.5 134.2 L265.4 134.6 L267.2 135.0 L269.0 135.4 L270.9 135.8 L272.9 136.3 L274.9 136.9 L276.9 137.5 L279.0 138.2 L281.0 138.8 L283.0 139.6 L284.9 140.3 L286.8 141.0 L288.5 141.7 L290.0 142.5 L291.4 143.2 L292.7 143.9 L294.1 144.7 L295.5 145.6 L296.9 146.4 L298.4 147.4 L299.9 148.5 L301.5 149.6 L303.2 150.8 L304.9 152.0 L306.5 153.2 L308.1 154.4 L309.6 155.6 L311.2 156.8 L312.6 158.1 L314.1 159.3 L315.6 160.6 L317.0 162.0 L318.5 163.3 L320.0 164.9 L321.5 166.5 L323.1 168.3 L324.8 170.1 L326.4 172.0 L328.0 173.9 L329.6 175.8 L331.2 177.7 L332.7 179.6 L334.1 181.4 L335.4 183.4 L336.7 185.3 L338.0 187.2 L339.1 188.9 L340.1 190.6 L341.0 192.2 L341.8 193.8 L342.6 195.2 L343.2 196.6 L343.7 197.9 L344.1 199.2 L344.5 200.6 L344.9 202.0 L345.2 203.5 L345.6 205.1 L346.0 206.9 L346.4 208.9 L346.8 211.0 L347.2 213.3 L347.7 215.6 L348.3 217.7 L348.9 219.7 L349.5 221.8 L350.1 224.1 L350.7 226.4 L351.2 228.8 L351.8 231.3 L352.4 233.9 L353.0 236.6 L353.7 239.4 L354.4 242.3 L355.1 245.1 L355.8 247.8 L356.5 250.4 L357.1 252.9 L357.7 255.4 L358.3 257.8 L358.8 260.3 L359.3 262.8 L359.7 265.4 L360.2 268.4 L360.7 271.7 L361.2 275.1 L361.6 278.8 L362.0 282.5 L362.4 286.2 L362.8 289.8 L363.1 293.4 L363.3 296.7 L363.5 299.8 L362.0 300.0 L361.4 305.0 L361.1 310.0 L360.8 314.9 L360.1 319.9 L359.0 324.9 L357.0 330.0 L354.0 335.2 L350.3 340.5 L346.1 345.8 L341.4 351.1 L336.7 356.2 L332.0 361.0 L327.2 365.8 L322.1 370.5 L316.8 375.2 L311.6 379.4 L306.6 383.1 L302.0 386.0 L298.0 388.1 L294.4 389.4 L291.0 390.2 L287.6 390.5 L284.0 390.6 L280.0 390.5 L275.4 390.3 L270.3 389.7 L265.0 388.9 L259.7 387.8 L254.6 386.5 L250.0 385.0 L245.8 383.3 L241.9 381.5 L238.2 379.4 L234.7 377.0 L231.5 374.4 L228.7 371.5 L226.2 368.2 L224.0 364.7 L222.1 360.8 L220.4 356.8 L219.0 352.5 L217.8 348.0 L217.1 342.9 L217.1 336.9 L217.2 330.8 L217.2 325.0 L216.6 320.2 L215.0 317.0 L212.0 315.6 L207.9 315.7 L203.1 316.7 L198.3 318.2 L194.0 319.7 L190.6 320.8 L188.4 321.5 L186.9 322.1 L185.9 322.8 L185.0 323.5 L184.0 324.2 L182.5 325.0 L180.6 326.0 L178.6 327.3 L176.4 328.6 L174.1 329.7 L171.6 330.6 L169.0 331.0 L166.1 331.0 L162.9 330.7 L159.5 330.1 L156.2 329.1 L152.9 327.8 L150.0 326.0 L147.3 323.6 L144.6 320.4 L142.1 316.9 L139.8 313.3 L137.8 309.9 L136.0 307.0 L134.5 304.6 L133.1 302.5 L132.1 300.6 L131.3 298.9 L130.9 297.4 L131.0 296.0 L131.8 294.8 L133.4 293.9 L135.4 293.1 L137.4 292.4 L139.1 291.7 L140.0 291.0 L140.4 290.2 L140.5 289.5 L140.3 288.9 L139.7 288.1 L138.4 287.3 L136.5 286.4 L133.6 285.3 L129.9 284.1 L125.5 282.9 L120.9 281.6 L116.3 280.3 L112.0 279.0 L108.0 277.8 L104.0 276.7 L100.0 275.6 L96.0 274.4 L92.0 273.1 L88.0 271.8 L83.9 270.4 L79.6 268.9 L75.3 267.4 L71.1 265.7 L67.2 263.9 L63.7 262.0 L60.7 259.9 L58.1 257.5 L55.8 255.0 L53.5 252.5 L51.3 250.0 L49.0 247.5 Z" fill="#8d8d8d"/>
<g clip-path="url(#brainclip)">
<path d="M42.1 241.3 L42.7 239.1 L43.3 236.8 L43.9 234.6 L44.6 232.3 L45.2 230.1 L45.8 227.9 L46.3 225.7 L47.0 223.4 L47.7 221.2 L48.3 219.1 L48.8 217.2 L49.4 215.3 L49.9 213.6 L50.4 212.0 L50.9 210.5 L51.4 209.1 L52.0 207.7 L52.8 206.1 L53.6 204.6 L54.5 203.1 L55.3 201.6 L56.2 200.3 L57.1 198.9 L58.0 197.6 L58.9 196.2 L59.9 194.9 L61.0 193.5 L62.2 192.1 L63.5 190.6 L64.9 189.1 L66.4 187.5 L67.9 185.8 L69.6 184.1 L71.2 182.4 L72.9 180.7 L74.7 179.0 L76.4 177.3 L78.1 175.6 L79.9 173.8 L81.6 172.0 L83.4 170.3 L85.2 168.6 L87.0 167.0 L88.7 165.4 L90.4 163.9 L92.0 162.6 L93.6 161.4 L95.1 160.1 L96.7 159.0 L98.1 157.9 L99.5 156.9 L100.9 156.0 L102.3 155.1 L103.7 154.3 L105.2 153.5 L106.7 152.6 L108.4 151.8 L110.1 151.0 L111.9 150.1 L113.8 149.3 L115.7 148.6 L117.6 147.8 L119.6 147.1 L121.6 146.4 L123.7 145.7 L125.8 145.0 L128.0 144.4 L130.1 143.9 L132.4 143.4 L134.8 142.9 L137.3 142.4 L139.9 141.9 L142.7 141.4 L145.4 141.0 L148.3 140.5 L151.1 140.1 L154.0 139.6 L156.7 139.2 L159.4 138.9 L162.2 138.6 L165.0 138.2 L167.9 137.9 L170.7 137.6 L173.5 137.4 L176.3 137.1 L179.1 136.9 L181.7 136.6 L184.3 136.4 L186.7 136.2 L189.1 136.0 L191.5 135.8 L193.8 135.7 L196.2 135.5 L198.5 135.4 L200.8 135.2 L203.2 135.1 L205.6 135.0 L208.0 134.8 L210.4 134.5 L212.8 134.3 L215.1 134.1 L217.4 134.0 L219.6 133.8 L221.9 133.6 L224.1 133.5 L226.3 133.4 L228.5 133.3 L230.9 133.1 L233.3 133.0 L235.6 132.9 L237.8 132.8 L239.9 132.7 L242.0 132.6 L244.0 132.6 L245.9 132.6 L247.8 132.7 L249.6 132.7 L251.6 132.9 L253.7 133.0 L255.8 133.2 L257.8 133.4 L259.7 133.7 L261.7 133.9 L263.5 134.2 L265.4 134.6 L267.2 135.0 L269.0 135.4 L270.9 135.8 L272.9 136.3 L274.9 136.9 L276.9 137.5 L279.0 138.2 L281.0 138.8 L283.0 139.6 L284.9 140.3 L286.8 141.0 L288.5 141.7 L290.0 142.5 L291.4 143.2 L292.7 143.9 L294.1 144.7 L295.5 145.6 L296.9 146.4 L298.4 147.4 L299.9 148.5 L301.5 149.6 L303.2 150.8 L304.9 152.0 L306.5 153.2 L308.1 154.4 L309.6 155.6 L311.2 156.8 L312.6 158.1 L314.1 159.3 L315.6 160.6 L317.0 162.0 L318.5 163.3 L320.0 164.9 L321.5 166.5 L323.1 168.3 L324.8 170.1 L326.4 172.0 L328.0 173.9 L329.6 175.8 L331.2 177.7 L332.7 179.6 L334.1 181.4 L335.4 183.4 L336.7 185.3 L338.0 187.2 L339.1 188.9 L340.1 190.6 L341.0 192.2 L341.8 193.8 L342.6 195.2 L343.2 196.6 L343.7 197.9 L344.1 199.2 L344.5 200.6 L344.9 202.0 L345.2 203.5 L345.6 205.1 L346.0 206.9 L346.4 208.9 L346.8 211.0 L347.2 213.3 L347.7 215.6 L348.3 217.7 L348.9 219.7 L349.5 221.8 L350.1 224.1 L350.7 226.4 L351.2 228.8 L351.8 231.3 L352.4 233.9 L353.0 236.6 L353.7 239.4 L354.4 242.3 L355.1 245.1 L355.8 247.8 L356.5 250.4 L357.1 252.9 L357.7 255.4 L358.3 257.8 L358.8 260.3 L359.3 262.8 L359.7 265.4 L360.2 268.4 L360.7 271.7 L361.2 275.1 L361.6 278.8 L362.0 282.5 L362.4 286.2 L362.8 289.8 L363.1 293.4 L363.3 296.7 L363.5 299.8 L362.0 300.0 L361.4 305.0 L361.1 310.0 L360.8 314.9 L360.1 319.9 L359.0 324.9 L357.0 330.0 L354.0 335.2 L350.3 340.5 L346.1 345.8 L341.4 351.1 L336.7 356.2 L332.0 361.0 L327.2 365.8 L322.1 370.5 L316.8 375.2 L311.6 379.4 L306.6 383.1 L302.0 386.0 L298.0 388.1 L294.4 389.4 L291.0 390.2 L287.6 390.5 L284.0 390.6 L280.0 390.5 L275.4 390.3 L270.3 389.7 L265.0 388.9 L259.7 387.8 L254.6 386.5 L250.0 385.0 L245.8 383.3 L241.9 381.5 L238.2 379.4 L234.7 377.0 L231.5 374.4 L228.7 371.5 L226.2 368.2 L224.0 364.7 L222.1 360.8 L220.4 356.8 L219.0 352.5 L217.8 348.0 L217.1 342.9 L217.1 336.9 L217.2 330.8 L217.2 325.0 L216.6 320.2 L215.0 317.0 L212.0 315.6 L207.9 315.7 L203.1 316.7 L198.3 318.2 L194.0 319.7 L190.6 320.8 L188.4 321.5 L186.9 322.1 L185.9 322.8 L185.0 323.5 L184.0 324.2 L182.5 325.0 L180.6 326.0 L178.6 327.3 L176.4 328.6 L174.1 329.7 L171.6 330.6 L169.0 331.0 L166.1 331.0 L162.9 330.7 L159.5 330.1 L156.2 329.1 L152.9 327.8 L150.0 326.0 L147.3 323.6 L144.6 320.4 L142.1 316.9 L139.8 313.3 L137.8 309.9 L136.0 307.0 L134.5 304.6 L133.1 302.5 L132.1 300.6 L131.3 298.9 L130.9 297.4 L131.0 296.0 L131.8 294.8 L133.4 293.9 L135.4 293.1 L137.4 292.4 L139.1 291.7 L140.0 291.0 L140.4 290.2 L140.5 289.5 L140.3 288.9 L139.7 288.1 L138.4 287.3 L136.5 286.4 L133.6 285.3 L129.9 284.1 L125.5 282.9 L120.9 281.6 L116.3 280.3 L112.0 279.0 L108.0 277.8 L104.0 276.7 L100.0 275.6 L96.0 274.4 L92.0 273.1 L88.0 271.8 L83.9 270.4 L79.6 268.9 L75.3 267.4 L71.1 265.7 L67.2 263.9 L63.7 262.0 L60.7 259.9 L58.1 257.5 L55.8 255.0 L53.5 252.5 L51.3 250.0 L49.0 247.5 Z" fill="#8a8a8a"/>
<path d="M70.0 232.0 L69.9 227.5 L70.5 222.8 L71.8 218.1 L73.6 213.5 L75.7 209.1 L78.0 205.0 L80.6 201.2 L83.7 197.6 L87.1 194.1 L90.7 190.9 L94.4 187.8 L98.0 185.0 L101.5 182.3 L104.9 179.9 L108.4 177.6 L112.0 175.6 L115.8 173.7 L120.0 172.0 L124.5 170.5 L129.4 169.3 L134.5 168.2 L139.7 167.3 L144.9 166.6 L150.0 166.0 L155.0 165.6 L160.0 165.4 L165.0 165.4 L170.0 165.5 L175.0 165.7 L180.0 166.0 L185.0 166.5 L190.0 167.1 L195.0 167.9 L200.0 168.7 L205.0 169.4 L210.0 170.0 L215.0 170.4 L220.1 170.7 L225.1 171.0 L230.1 171.3 L235.1 171.6 L240.0 172.0 L244.8 172.4 L249.5 172.8 L254.2 173.2 L258.8 173.9 L263.4 174.7 L268.0 176.0 L272.6 177.7 L277.2 179.6 L281.8 181.9 L286.3 184.4 L290.7 187.1 L295.0 190.0 L299.1 193.1 L303.2 196.5 L307.1 200.1 L310.9 203.9 L314.6 207.9 L318.0 212.0 L321.3 216.4 L324.6 221.0 L327.8 225.8 L330.6 230.7 L333.0 235.4 L335.0 240.0 L336.5 244.4 L337.6 248.7 L338.4 253.0 L338.7 257.1 L338.6 261.2 L338.0 265.0 L336.9 268.8 L335.3 272.7 L333.2 276.4 L330.8 279.8 L328.0 282.7 L325.0 285.0 L321.4 286.6 L317.2 287.6 L312.6 288.1 L308.0 288.3 L303.7 288.2 L300.0 288.0 L297.0 287.4 L294.6 286.3 L292.4 284.9 L290.2 283.6 L287.8 282.5 L285.0 282.0 L281.6 282.2 L277.9 282.9 L273.9 283.9 L269.9 284.9 L265.9 285.7 L262.0 286.0 L258.2 285.7 L254.4 284.8 L250.7 283.8 L247.0 282.7 L243.4 282.1 L240.0 282.0 L236.8 282.6 L233.7 283.7 L230.7 285.1 L227.8 286.7 L224.9 288.4 L222.0 290.0 L219.1 291.6 L216.4 293.3 L213.6 295.0 L210.9 296.7 L208.0 298.4 L205.0 300.0 L201.9 301.6 L198.7 303.2 L195.5 304.8 L192.1 306.2 L188.7 307.3 L185.0 308.0 L180.9 308.3 L176.5 308.2 L171.9 307.8 L167.4 307.1 L163.4 306.2 L160.0 305.0 L157.6 303.4 L155.9 301.4 L154.7 299.1 L153.5 296.6 L152.1 294.2 L150.0 292.0 L147.3 289.9 L144.3 287.9 L140.9 285.8 L137.4 283.8 L133.7 281.9 L130.0 280.0 L126.1 278.2 L121.9 276.6 L117.5 275.0 L113.1 273.4 L108.9 271.8 L105.0 270.0 L101.3 268.3 L97.8 266.7 L94.4 265.0 L91.1 263.1 L88.0 260.8 L85.0 258.0 L81.9 254.5 L78.8 250.4 L75.8 245.9 L73.1 241.3 L71.1 236.6 Z" fill="#adadad" filter="url(#b5)"/>
<path d="M70.0 232.0 L69.9 227.5 L70.5 222.8 L71.8 218.1 L73.6 213.5 L75.7 209.1 L78.0 205.0 L80.6 201.2 L83.7 197.6 L87.1 194.1 L90.7 190.9 L94.4 187.8 L98.0 185.0 L101.5 182.3 L104.9 179.9 L108.4 177.6 L112.0 175.6 L115.8 173.7 L120.0 172.0 L124.5 170.5 L129.4 169.3 L134.5 168.2 L139.7 167.3 L144.9 166.6 L150.0 166.0 L155.0 165.6 L160.0 165.4 L165.0 165.4 L170.0 165.5 L175.0 165.7 L180.0 166.0 L185.0 166.5 L190.0 167.1 L195.0 167.9 L200.0 168.7 L205.0 169.4 L210.0 170.0 L215.0 170.4 L220.1 170.7 L225.1 171.0 L230.1 171.3 L235.1 171.6 L240.0 172.0 L244.8 172.4 L249.5 172.8 L254.2 173.2 L258.8 173.9 L263.4 174.7 L268.0 176.0 L272.6 177.7 L277.2 179.6 L281.8 181.9 L286.3 184.4 L290.7 187.1 L295.0 190.0 L299.1 193.1 L303.2 196.5 L307.1 200.1 L310.9 203.9 L314.6 207.9 L318.0 212.0 L321.3 216.4 L324.6 221.0 L327.8 225.8 L330.6 230.7 L333.0 235.4 L335.0 240.0 L336.5 244.4 L337.6 248.7 L338.4 253.0 L338.7 257.1 L338.6 261.2 L338.0 265.0 L336.9 268.8 L335.3 272.7 L333.2 276.4 L330.8 279.8 L328.0 282.7 L325.0 285.0 L321.4 286.6 L317.2 287.6 L312.6 288.1 L308.0 288.3 L303.7 288.2 L300.0 288.0 L297.0 287.4 L294.6 286.3 L292.4 284.9 L290.2 283.6 L287.8 282.5 L285.0 282.0 L281.6 282.2 L277.9 282.9 L273.9 283.9 L269.9 284.9 L265.9 285.7 L262.0 286.0 L258.2 285.7 L254.4 284.8 L250.7 283.8 L247.0 282.7 L243.4 282.1 L240.0 282.0 L236.8 282.6 L233.7 283.7 L230.7 285.1 L227.8 286.7 L224.9 288.4 L222.0 290.0 L219.1 291.6 L216.4 293.3 L213.6 295.0 L210.9 296.7 L208.0 298.4 L205.0 300.0 L201.9 301.6 L198.7 303.2 L195.5 304.8 L192.1 306.2 L188.7 307.3 L185.0 308.0 L180.9 308.3 L176.5 308.2 L171.9 307.8 L167.4 307.1 L163.4 306.2 L160.0 305.0 L157.6 303.4 L155.9 301.4 L154.7 299.1 L153.5 296.6 L152.1 294.2 L150.0 292.0 L147.3 289.9 L144.3 287.9 L140.9 285.8 L137.4 283.8 L133.7 281.9 L130.0 280.0 L126.1 278.2 L121.9 276.6 L117.5 275.0 L113.1 273.4 L108.9 271.8 L105.0 270.0 L101.3 268.3 L97.8 266.7 L94.4 265.0 L91.1 263.1 L88.0 260.8 L85.0 258.0 L81.9 254.5 L78.8 250.4 L75.8 245.9 L73.1 241.3 L71.1 236.6 Z" fill="#aaaaaa" filter="url(#b2)" opacity=".7"/>
<path d="M95.0 190.0 L80.0 172.0" fill="none" stroke="#ababab" stroke-width="9" stroke-linecap="round" filter="url(#b2)"/>
<path d="M120.0 178.0 L118.0 158.0" fill="none" stroke="#ababab" stroke-width="9" stroke-linecap="round" filter="url(#b2)"/>
<path d="M148.0 170.0 L146.0 148.0" fill="none" stroke="#ababab" stroke-width="9" stroke-linecap="round" filter="url(#b2)"/>
<path d="M176.0 168.0 L174.0 146.0" fill="none" stroke="#ababab" stroke-width="9" stroke-linecap="round" filter="url(#b2)"/>
<path d="M198.0 168.0 L198.0 142.0" fill="none" stroke="#ababab" stroke-width="9" stroke-linecap="round" filter="url(#b2)"/>
<path d="M226.0 172.0 L224.0 142.0" fill="none" stroke="#ababab" stroke-width="9" stroke-linecap="round" filter="url(#b2)"/>
<path d="M255.0 175.0 L258.0 146.0" fill="none" stroke="#ababab" stroke-width="9" stroke-linecap="round" filter="url(#b2)"/>
<path d="M285.0 186.0 L296.0 160.0" fill="none" stroke="#ababab" stroke-width="9" stroke-linecap="round" filter="url(#b2)"/>
<path d="M305.0 200.0 L326.0 180.0" fill="none" stroke="#ababab" stroke-width="9" stroke-linecap="round" filter="url(#b2)"/>
<path d="M322.0 222.0 L345.0 212.0" fill="none" stroke="#ababab" stroke-width="9" stroke-linecap="round" filter="url(#b2)"/>
<path d="M332.0 250.0 L352.0 246.0" fill="none" stroke="#ababab" stroke-width="9" stroke-linecap="round" filter="url(#b2)"/>
<path d="M330.0 275.0 L350.0 282.0" fill="none" stroke="#ababab" stroke-width="9" stroke-linecap="round" filter="url(#b2)"/>
<path d="M80.0 212.0 L62.0 205.0" fill="none" stroke="#ababab" stroke-width="9" stroke-linecap="round" filter="url(#b2)"/>
<path d="M78.0 236.0 L58.0 226.0" fill="none" stroke="#ababab" stroke-width="9" stroke-linecap="round" filter="url(#b2)"/>
<path d="M92.0 255.0 L70.0 250.0" fill="none" stroke="#ababab" stroke-width="9" stroke-linecap="round" filter="url(#b2)"/>
<ellipse cx="172" cy="250" rx="27" ry="17" fill="#848484" filter="url(#b5)" opacity=".9"/>
<ellipse cx="215" cy="268" rx="22" ry="12" fill="#8a8a8a" filter="url(#b5)" opacity=".8"/>
<path d="M50.0 238.0 L52.7 237.0 L55.3 236.0 L58.0 235.0 L60.7 234.0 L63.3 233.0 L66.0 232.0 L68.7 231.0 L71.3 230.0 L74.0 229.0 L76.7 228.0 L79.3 227.0 L82.0 226.0" fill="none" stroke="#838383" stroke-width="14" stroke-linecap="round" filter="url(#b2)" opacity=".9"/>
<path d="M52.0 219.0 L54.7 218.0 L57.3 217.0 L60.0 215.9 L62.7 214.9 L65.3 213.9 L68.0 213.0 L70.7 212.1 L73.3 211.3 L76.0 210.4 L78.7 209.6 L81.3 208.8 L84.0 208.0" fill="none" stroke="#838383" stroke-width="14" stroke-linecap="round" filter="url(#b2)" opacity=".9"/>
<path d="M58.0 200.0 L60.4 198.9 L62.7 197.6 L65.1 196.3 L67.5 195.2 L69.8 194.4 L72.0 194.0 L74.1 194.2 L76.1 194.9 L78.1 195.8 L80.1 196.9 L82.0 198.0 L84.0 199.0" fill="none" stroke="#838383" stroke-width="14" stroke-linecap="round" filter="url(#b2)" opacity=".9"/>
<path d="M70.0 182.0 L72.4 182.6 L74.8 183.0 L77.2 183.5 L79.6 184.1 L81.9 184.9 L84.0 186.0 L85.9 187.5 L87.6 189.4 L89.2 191.5 L90.8 193.7 L92.4 195.9 L94.0 198.0" fill="none" stroke="#838383" stroke-width="14" stroke-linecap="round" filter="url(#b2)" opacity=".9"/>
<path d="M86.0 168.0 L88.1 169.6 L90.2 171.2 L92.4 172.8 L94.4 174.4 L96.3 176.1 L98.0 178.0 L99.3 180.1 L100.4 182.4 L101.4 184.8 L102.2 187.2 L103.1 189.6 L104.0 192.0" fill="none" stroke="#838383" stroke-width="14" stroke-linecap="round" filter="url(#b2)" opacity=".9"/>
<path d="M104.0 158.0 L105.6 160.3 L107.2 162.6 L108.8 164.9 L110.4 167.2 L111.8 169.6 L113.0 172.0 L114.0 174.6 L114.7 177.2 L115.3 179.9 L115.9 182.6 L116.4 185.3 L117.0 188.0" fill="none" stroke="#838383" stroke-width="14" stroke-linecap="round" filter="url(#b2)" opacity=".9"/>
<path d="M128.0 148.0 L128.9 150.0 L129.8 151.9 L130.7 153.9 L131.6 155.9 L132.3 157.9 L133.0 160.0 L133.5 162.2 L133.9 164.5 L134.2 166.9 L134.4 169.3 L134.7 171.6 L135.0 174.0" fill="none" stroke="#838383" stroke-width="14" stroke-linecap="round" filter="url(#b2)" opacity=".9"/>
<path d="M152.0 141.0 L153.3 143.4 L154.7 145.8 L156.0 148.2 L157.3 150.6 L158.7 153.2 L160.0 156.0 L161.3 159.0 L162.7 162.3 L164.0 165.7 L165.3 169.1 L166.7 172.6 L168.0 176.0" fill="none" stroke="#838383" stroke-width="14" stroke-linecap="round" filter="url(#b2)" opacity=".9"/>
<path d="M180.0 138.0 L180.7 140.3 L181.5 142.6 L182.3 144.9 L183.0 147.2 L183.6 149.6 L184.0 152.0 L184.1 154.6 L184.0 157.2 L183.8 159.9 L183.5 162.6 L183.2 165.3 L183.0 168.0" fill="none" stroke="#838383" stroke-width="14" stroke-linecap="round" filter="url(#b2)" opacity=".9"/>
<path d="M207.0 137.0 L207.5 140.8 L208.0 144.7 L208.5 148.5 L209.0 152.3 L209.5 156.2 L210.0 160.0 L210.5 163.8 L211.0 167.7 L211.5 171.5 L212.0 175.3 L212.5 179.2 L213.0 183.0" fill="none" stroke="#838383" stroke-width="14" stroke-linecap="round" filter="url(#b2)" opacity=".9"/>
<path d="M237.0 135.0 L237.2 138.8 L237.3 142.7 L237.4 146.6 L237.6 150.4 L237.8 154.2 L238.0 158.0 L238.3 161.7 L238.6 165.4 L238.9 169.1 L239.3 172.7 L239.7 176.3 L240.0 180.0" fill="none" stroke="#838383" stroke-width="14" stroke-linecap="round" filter="url(#b2)" opacity=".9"/>
<path d="M262.0 140.0 L262.4 143.4 L262.8 146.8 L263.2 150.2 L263.6 153.6 L263.9 156.9 L264.0 160.0 L263.9 162.9 L263.6 165.6 L263.2 168.2 L262.8 170.8 L262.4 173.4 L262.0 176.0" fill="none" stroke="#838383" stroke-width="14" stroke-linecap="round" filter="url(#b2)" opacity=".9"/>
<path d="M278.0 146.0 L278.6 149.7 L279.4 153.4 L280.2 157.2 L280.8 160.9 L281.1 164.5 L281.0 168.0 L280.4 171.4 L279.4 174.9 L278.2 178.2 L276.7 181.4 L274.9 184.4 L273.0 187.0 L270.8 189.2 L268.3 191.0 L265.5 192.6 L262.6 194.0 L259.8 195.4 L257.0 197.0" fill="none" stroke="#838383" stroke-width="14" stroke-linecap="round" filter="url(#b2)" opacity=".9"/>
<path d="M300.0 156.0 L301.0 158.3 L302.0 160.6 L303.0 162.9 L304.0 165.2 L305.0 167.6 L306.0 170.0 L307.0 172.6 L308.0 175.2 L309.0 177.9 L310.0 180.6 L311.0 183.3 L312.0 186.0" fill="none" stroke="#838383" stroke-width="14" stroke-linecap="round" filter="url(#b2)" opacity=".9"/>
<path d="M287.0 182.0 L289.7 183.3 L292.3 184.7 L294.9 186.0 L297.6 187.3 L300.3 188.7 L303.0 190.0 L305.8 191.3 L308.6 192.7 L311.4 194.0 L314.3 195.3 L317.2 196.7 L320.0 198.0" fill="none" stroke="#838383" stroke-width="14" stroke-linecap="round" filter="url(#b2)" opacity=".9"/>
<path d="M322.0 168.0 L321.5 170.0 L320.9 171.9 L320.2 173.9 L319.8 175.9 L319.6 177.9 L320.0 180.0 L321.0 182.2 L322.4 184.5 L324.2 186.9 L326.2 189.3 L328.2 191.6 L330.0 194.0" fill="none" stroke="#838383" stroke-width="14" stroke-linecap="round" filter="url(#b2)" opacity=".9"/>
<path d="M340.0 198.0 L336.7 200.4 L333.3 202.7 L330.0 205.1 L326.7 207.5 L323.3 209.8 L320.0 212.0 L316.5 214.2 L312.9 216.4 L309.3 218.6 L305.9 220.7 L302.7 222.5 L300.0 224.0 L297.9 225.1 L296.2 225.9 L294.8 226.5 L293.6 227.0 L292.4 227.4 L291.0 228.0" fill="none" stroke="#838383" stroke-width="14" stroke-linecap="round" filter="url(#b2)" opacity=".9"/>
<path d="M344.0 222.0 L341.7 224.2 L339.3 226.2 L337.0 228.2 L334.7 230.4 L332.3 233.0 L330.0 236.0 L327.7 239.6 L325.3 243.8 L323.0 248.2 L320.7 252.9 L318.3 257.5 L316.0 262.0" fill="none" stroke="#838383" stroke-width="14" stroke-linecap="round" filter="url(#b2)" opacity=".9"/>
<path d="M354.0 250.0 L352.1 251.9 L350.2 253.7 L348.4 255.5 L346.4 257.4 L344.3 259.5 L342.0 262.0 L339.3 264.9 L336.4 268.1 L333.4 271.5 L330.2 275.0 L327.1 278.6 L324.0 282.0" fill="none" stroke="#838383" stroke-width="14" stroke-linecap="round" filter="url(#b2)" opacity=".9"/>
<path d="M319.0 277.0 L320.8 278.2 L322.6 279.4 L324.4 280.6 L326.3 281.7 L328.1 282.9 L330.0 284.0 L331.9 285.1 L333.9 286.1 L335.9 287.1 L338.0 288.0 L340.0 289.0 L342.0 290.0" fill="none" stroke="#838383" stroke-width="14" stroke-linecap="round" filter="url(#b2)" opacity=".9"/>
<path d="M356.0 232.0 L354.6 233.0 L353.3 233.9 L351.9 234.9 L350.5 235.9 L349.2 236.9 L348.0 238.0 L346.9 239.2 L345.9 240.5 L344.9 241.9 L343.9 243.3 L343.0 244.6 L342.0 246.0" fill="none" stroke="#838383" stroke-width="14" stroke-linecap="round" filter="url(#b2)" opacity=".9"/>
<path d="M350.0 275.0 L349.0 276.2 L348.0 277.4 L347.0 278.6 L346.0 279.7 L345.0 280.9 L344.0 282.0 L343.0 283.1 L342.0 284.1 L341.0 285.1 L340.0 286.0 L339.0 287.0 L338.0 288.0" fill="none" stroke="#838383" stroke-width="14" stroke-linecap="round" filter="url(#b2)" opacity=".9"/>
<path d="M118.0 285.0 L120.8 286.0 L123.7 287.0 L126.5 288.0 L129.3 289.0 L132.2 290.0 L135.0 291.0 L137.8 292.0 L140.7 293.0 L143.5 294.0 L146.3 295.0 L149.2 296.0 L152.0 297.0" fill="none" stroke="#838383" stroke-width="14" stroke-linecap="round" filter="url(#b2)" opacity=".9"/>
<path d="M60.0 254.0 L62.7 253.6 L65.4 253.0 L68.1 252.5 L70.8 252.1 L73.4 251.9 L76.0 252.0 L78.4 252.5 L80.8 253.4 L83.1 254.5 L85.4 255.7 L87.7 256.9 L90.0 258.0" fill="none" stroke="#838383" stroke-width="14" stroke-linecap="round" filter="url(#b2)" opacity=".9"/>
<path d="M50.0 238.0 L52.7 237.0 L55.3 236.0 L58.0 235.0 L60.7 234.0 L63.3 233.0 L66.0 232.0 L68.7 231.0 L71.3 230.0 L74.0 229.0 L76.7 228.0 L79.3 227.0 L82.0 226.0" fill="none" stroke="#525252" stroke-width="5" stroke-linecap="round" filter="url(#b3)"/>
<path d="M50.0 238.0 L52.7 237.0 L55.3 236.0 L58.0 235.0 L60.7 234.0 L63.3 233.0" fill="none" stroke="#484848" stroke-width="7.5" stroke-linecap="round" filter="url(#b3)"/>
<path d="M52.0 219.0 L54.7 218.0 L57.3 217.0 L60.0 215.9 L62.7 214.9 L65.3 213.9 L68.0 213.0 L70.7 212.1 L73.3 211.3 L76.0 210.4 L78.7 209.6 L81.3 208.8 L84.0 208.0" fill="none" stroke="#525252" stroke-width="5" stroke-linecap="round" filter="url(#b3)"/>
<path d="M52.0 219.0 L54.7 218.0 L57.3 217.0 L60.0 215.9 L62.7 214.9 L65.3 213.9" fill="none" stroke="#484848" stroke-width="7.5" stroke-linecap="round" filter="url(#b3)"/>
<path d="M58.0 200.0 L60.4 198.9 L62.7 197.6 L65.1 196.3 L67.5 195.2 L69.8 194.4 L72.0 194.0 L74.1 194.2 L76.1 194.9 L78.1 195.8 L80.1 196.9 L82.0 198.0 L84.0 199.0" fill="none" stroke="#525252" stroke-width="5" stroke-linecap="round" filter="url(#b3)"/>
<path d="M58.0 200.0 L60.4 198.9 L62.7 197.6 L65.1 196.3 L67.5 195.2 L69.8 194.4" fill="none" stroke="#484848" stroke-width="7.5" stroke-linecap="round" filter="url(#b3)"/>
<path d="M70.0 182.0 L72.4 182.6 L74.8 183.0 L77.2 183.5 L79.6 184.1 L81.9 184.9 L84.0 186.0 L85.9 187.5 L87.6 189.4 L89.2 191.5 L90.8 193.7 L92.4 195.9 L94.0 198.0" fill="none" stroke="#525252" stroke-width="5" stroke-linecap="round" filter="url(#b3)"/>
<path d="M70.0 182.0 L72.4 182.6 L74.8 183.0 L77.2 183.5 L79.6 184.1 L81.9 184.9" fill="none" stroke="#484848" stroke-width="7.5" stroke-linecap="round" filter="url(#b3)"/>
<path d="M86.0 168.0 L88.1 169.6 L90.2 171.2 L92.4 172.8 L94.4 174.4 L96.3 176.1 L98.0 178.0 L99.3 180.1 L100.4 182.4 L101.4 184.8 L102.2 187.2 L103.1 189.6 L104.0 192.0" fill="none" stroke="#525252" stroke-width="5" stroke-linecap="round" filter="url(#b3)"/>
<path d="M86.0 168.0 L88.1 169.6 L90.2 171.2 L92.4 172.8 L94.4 174.4 L96.3 176.1" fill="none" stroke="#484848" stroke-width="7.5" stroke-linecap="round" filter="url(#b3)"/>
<path d="M104.0 158.0 L105.6 160.3 L107.2 162.6 L108.8 164.9 L110.4 167.2 L111.8 169.6 L113.0 172.0 L114.0 174.6 L114.7 177.2 L115.3 179.9 L115.9 182.6 L116.4 185.3 L117.0 188.0" fill="none" stroke="#525252" stroke-width="5" stroke-linecap="round" filter="url(#b3)"/>
<path d="M104.0 158.0 L105.6 160.3 L107.2 162.6 L108.8 164.9 L110.4 167.2 L111.8 169.6" fill="none" stroke="#484848" stroke-width="7.5" stroke-linecap="round" filter="url(#b3)"/>
<path d="M128.0 148.0 L128.9 150.0 L129.8 151.9 L130.7 153.9 L131.6 155.9 L132.3 157.9 L133.0 160.0 L133.5 162.2 L133.9 164.5 L134.2 166.9 L134.4 169.3 L134.7 171.6 L135.0 174.0" fill="none" stroke="#525252" stroke-width="5" stroke-linecap="round" filter="url(#b3)"/>
<path d="M128.0 148.0 L128.9 150.0 L129.8 151.9 L130.7 153.9 L131.6 155.9 L132.3 157.9" fill="none" stroke="#484848" stroke-width="7.5" stroke-linecap="round" filter="url(#b3)"/>
<path d="M152.0 141.0 L153.3 143.4 L154.7 145.8 L156.0 148.2 L157.3 150.6 L158.7 153.2 L160.0 156.0 L161.3 159.0 L162.7 162.3 L164.0 165.7 L165.3 169.1 L166.7 172.6 L168.0 176.0" fill="none" stroke="#525252" stroke-width="5" stroke-linecap="round" filter="url(#b3)"/>
<path d="M152.0 141.0 L153.3 143.4 L154.7 145.8 L156.0 148.2 L157.3 150.6 L158.7 153.2" fill="none" stroke="#484848" stroke-width="7.5" stroke-linecap="round" filter="url(#b3)"/>
<path d="M180.0 138.0 L180.7 140.3 L181.5 142.6 L182.3 144.9 L183.0 147.2 L183.6 149.6 L184.0 152.0 L184.1 154.6 L184.0 157.2 L183.8 159.9 L183.5 162.6 L183.2 165.3 L183.0 168.0" fill="none" stroke="#525252" stroke-width="5" stroke-linecap="round" filter="url(#b3)"/>
<path d="M180.0 138.0 L180.7 140.3 L181.5 142.6 L182.3 144.9 L183.0 147.2 L183.6 149.6" fill="none" stroke="#484848" stroke-width="7.5" stroke-linecap="round" filter="url(#b3)"/>
<path d="M207.0 137.0 L207.5 140.8 L208.0 144.7 L208.5 148.5 L209.0 152.3 L209.5 156.2 L210.0 160.0 L210.5 163.8 L211.0 167.7 L211.5 171.5 L212.0 175.3 L212.5 179.2 L213.0 183.0" fill="none" stroke="#525252" stroke-width="5" stroke-linecap="round" filter="url(#b3)"/>
<path d="M207.0 137.0 L207.5 140.8 L208.0 144.7 L208.5 148.5 L209.0 152.3 L209.5 156.2" fill="none" stroke="#484848" stroke-width="7.5" stroke-linecap="round" filter="url(#b3)"/>
<path d="M237.0 135.0 L237.2 138.8 L237.3 142.7 L237.4 146.6 L237.6 150.4 L237.8 154.2 L238.0 158.0 L238.3 161.7 L238.6 165.4 L238.9 169.1 L239.3 172.7 L239.7 176.3 L240.0 180.0" fill="none" stroke="#525252" stroke-width="5" stroke-linecap="round" filter="url(#b3)"/>
<path d="M237.0 135.0 L237.2 138.8 L237.3 142.7 L237.4 146.6 L237.6 150.4 L237.8 154.2" fill="none" stroke="#484848" stroke-width="7.5" stroke-linecap="round" filter="url(#b3)"/>
<path d="M262.0 140.0 L262.4 143.4 L262.8 146.8 L263.2 150.2 L263.6 153.6 L263.9 156.9 L264.0 160.0 L263.9 162.9 L263.6 165.6 L263.2 168.2 L262.8 170.8 L262.4 173.4 L262.0 176.0" fill="none" stroke="#525252" stroke-width="5" stroke-linecap="round" filter="url(#b3)"/>
<path d="M262.0 140.0 L262.4 143.4 L262.8 146.8 L263.2 150.2 L263.6 153.6 L263.9 156.9" fill="none" stroke="#484848" stroke-width="7.5" stroke-linecap="round" filter="url(#b3)"/>
<path d="M278.0 146.0 L278.6 149.7 L279.4 153.4 L280.2 157.2 L280.8 160.9 L281.1 164.5 L281.0 168.0 L280.4 171.4 L279.4 174.9 L278.2 178.2 L276.7 181.4 L274.9 184.4 L273.0 187.0 L270.8 189.2 L268.3 191.0 L265.5 192.6 L262.6 194.0 L259.8 195.4 L257.0 197.0" fill="none" stroke="#525252" stroke-width="5" stroke-linecap="round" filter="url(#b3)"/>
<path d="M278.0 146.0 L278.6 149.7 L279.4 153.4 L280.2 157.2 L280.8 160.9 L281.1 164.5 L281.0 168.0 L280.4 171.4 L279.4 174.9" fill="none" stroke="#484848" stroke-width="7.5" stroke-linecap="round" filter="url(#b3)"/>
<path d="M300.0 156.0 L301.0 158.3 L302.0 160.6 L303.0 162.9 L304.0 165.2 L305.0 167.6 L306.0 170.0 L307.0 172.6 L308.0 175.2 L309.0 177.9 L310.0 180.6 L311.0 183.3 L312.0 186.0" fill="none" stroke="#525252" stroke-width="5" stroke-linecap="round" filter="url(#b3)"/>
<path d="M300.0 156.0 L301.0 158.3 L302.0 160.6 L303.0 162.9 L304.0 165.2 L305.0 167.6" fill="none" stroke="#484848" stroke-width="7.5" stroke-linecap="round" filter="url(#b3)"/>
<path d="M287.0 182.0 L289.7 183.3 L292.3 184.7 L294.9 186.0 L297.6 187.3 L300.3 188.7 L303.0 190.0 L305.8 191.3 L308.6 192.7 L311.4 194.0 L314.3 195.3 L317.2 196.7 L320.0 198.0" fill="none" stroke="#525252" stroke-width="5" stroke-linecap="round" filter="url(#b3)"/>
<path d="M287.0 182.0 L289.7 183.3 L292.3 184.7 L294.9 186.0 L297.6 187.3 L300.3 188.7" fill="none" stroke="#484848" stroke-width="7.5" stroke-linecap="round" filter="url(#b3)"/>
<path d="M322.0 168.0 L321.5 170.0 L320.9 171.9 L320.2 173.9 L319.8 175.9 L319.6 177.9 L320.0 180.0 L321.0 182.2 L322.4 184.5 L324.2 186.9 L326.2 189.3 L328.2 191.6 L330.0 194.0" fill="none" stroke="#525252" stroke-width="5" stroke-linecap="round" filter="url(#b3)"/>
<path d="M322.0 168.0 L321.5 170.0 L320.9 171.9 L320.2 173.9 L319.8 175.9 L319.6 177.9" fill="none" stroke="#484848" stroke-width="7.5" stroke-linecap="round" filter="url(#b3)"/>
<path d="M340.0 198.0 L336.7 200.4 L333.3 202.7 L330.0 205.1 L326.7 207.5 L323.3 209.8 L320.0 212.0 L316.5 214.2 L312.9 216.4 L309.3 218.6 L305.9 220.7 L302.7 222.5 L300.0 224.0 L297.9 225.1 L296.2 225.9 L294.8 226.5 L293.6 227.0 L292.4 227.4 L291.0 228.0" fill="none" stroke="#525252" stroke-width="5" stroke-linecap="round" filter="url(#b3)"/>
<path d="M340.0 198.0 L336.7 200.4 L333.3 202.7 L330.0 205.1 L326.7 207.5 L323.3 209.8 L320.0 212.0 L316.5 214.2 L312.9 216.4" fill="none" stroke="#484848" stroke-width="7.5" stroke-linecap="round" filter="url(#b3)"/>
<path d="M344.0 222.0 L341.7 224.2 L339.3 226.2 L337.0 228.2 L334.7 230.4 L332.3 233.0 L330.0 236.0 L327.7 239.6 L325.3 243.8 L323.0 248.2 L320.7 252.9 L318.3 257.5 L316.0 262.0" fill="none" stroke="#525252" stroke-width="5" stroke-linecap="round" filter="url(#b3)"/>
<path d="M344.0 222.0 L341.7 224.2 L339.3 226.2 L337.0 228.2 L334.7 230.4 L332.3 233.0" fill="none" stroke="#484848" stroke-width="7.5" stroke-linecap="round" filter="url(#b3)"/>
<path d="M354.0 250.0 L352.1 251.9 L350.2 253.7 L348.4 255.5 L346.4 257.4 L344.3 259.5 L342.0 262.0 L339.3 264.9 L336.4 268.1 L333.4 271.5 L330.2 275.0 L327.1 278.6 L324.0 282.0" fill="none" stroke="#525252" stroke-width="5" stroke-linecap="round" filter="url(#b3)"/>
<path d="M354.0 250.0 L352.1 251.9 L350.2 253.7 L348.4 255.5 L346.4 257.4 L344.3 259.5" fill="none" stroke="#484848" stroke-width="7.5" stroke-linecap="round" filter="url(#b3)"/>
<path d="M319.0 277.0 L320.8 278.2 L322.6 279.4 L324.4 280.6 L326.3 281.7 L328.1 282.9 L330.0 284.0 L331.9 285.1 L333.9 286.1 L335.9 287.1 L338.0 288.0 L340.0 289.0 L342.0 290.0" fill="none" stroke="#525252" stroke-width="5" stroke-linecap="round" filter="url(#b3)"/>
<path d="M319.0 277.0 L320.8 278.2 L322.6 279.4 L324.4 280.6 L326.3 281.7 L328.1 282.9" fill="none" stroke="#484848" stroke-width="7.5" stroke-linecap="round" filter="url(#b3)"/>
<path d="M356.0 232.0 L354.6 233.0 L353.3 233.9 L351.9 234.9 L350.5 235.9 L349.2 236.9 L348.0 238.0 L346.9 239.2 L345.9 240.5 L344.9 241.9 L343.9 243.3 L343.0 244.6 L342.0 246.0" fill="none" stroke="#525252" stroke-width="5" stroke-linecap="round" filter="url(#b3)"/>
<path d="M356.0 232.0 L354.6 233.0 L353.3 233.9 L351.9 234.9 L350.5 235.9 L349.2 236.9" fill="none" stroke="#484848" stroke-width="7.5" stroke-linecap="round" filter="url(#b3)"/>
<path d="M350.0 275.0 L349.0 276.2 L348.0 277.4 L347.0 278.6 L346.0 279.7 L345.0 280.9 L344.0 282.0 L343.0 283.1 L342.0 284.1 L341.0 285.1 L340.0 286.0 L339.0 287.0 L338.0 288.0" fill="none" stroke="#525252" stroke-width="5" stroke-linecap="round" filter="url(#b3)"/>
<path d="M350.0 275.0 L349.0 276.2 L348.0 277.4 L347.0 278.6 L346.0 279.7 L345.0 280.9" fill="none" stroke="#484848" stroke-width="7.5" stroke-linecap="round" filter="url(#b3)"/>
<path d="M118.0 285.0 L120.8 286.0 L123.7 287.0 L126.5 288.0 L129.3 289.0 L132.2 290.0 L135.0 291.0 L137.8 292.0 L140.7 293.0 L143.5 294.0 L146.3 295.0 L149.2 296.0 L152.0 297.0" fill="none" stroke="#525252" stroke-width="5" stroke-linecap="round" filter="url(#b3)"/>
<path d="M118.0 285.0 L120.8 286.0 L123.7 287.0 L126.5 288.0 L129.3 289.0 L132.2 290.0" fill="none" stroke="#484848" stroke-width="7.5" stroke-linecap="round" filter="url(#b3)"/>
<path d="M60.0 254.0 L62.7 253.6 L65.4 253.0 L68.1 252.5 L70.8 252.1 L73.4 251.9 L76.0 252.0 L78.4 252.5 L80.8 253.4 L83.1 254.5 L85.4 255.7 L87.7 256.9 L90.0 258.0" fill="none" stroke="#525252" stroke-width="5" stroke-linecap="round" filter="url(#b3)"/>
<path d="M60.0 254.0 L62.7 253.6 L65.4 253.0 L68.1 252.5 L70.8 252.1 L73.4 251.9" fill="none" stroke="#484848" stroke-width="7.5" stroke-linecap="round" filter="url(#b3)"/>
<path d="M166 136 L214 135 L214 183 L202 187 L188 172 L168 176 Z" fill="#666" filter="url(#b2)" opacity=".8"/>
<path d="M298 152 L322 166 L336 186 L326 192 L308 184 L296 170 Z" fill="#646464" filter="url(#b2)" opacity=".8"/>
<path d="M270 142 L283 146 L284 184 L272 186 Z" fill="#6a6a6a" filter="url(#b2)" opacity=".7"/>
<path d="M179 160 L180 176" stroke="#9a9a9a" stroke-width="8" stroke-linecap="round" fill="none" filter="url(#b2)"/>
<path d="M222 141 L223 180" stroke="#b0b0b0" stroke-width="11" stroke-linecap="round" fill="none" filter="url(#b2)"/>
<path d="M251 147 L252 182" stroke="#ababab" stroke-width="10" stroke-linecap="round" fill="none" filter="url(#b2)"/>
<path d="M290 156 L291 184" stroke="#a6a6a6" stroke-width="9" stroke-linecap="round" fill="none" filter="url(#b2)"/>
<path d="M150 153 L151 176" stroke="#a6a6a6" stroke-width="8" stroke-linecap="round" fill="none" filter="url(#b2)"/>
<path d="M338.0 200.0 L335.0 202.0 L332.1 204.0 L329.1 206.0 L326.1 208.0 L323.1 210.0 L320.0 212.0 L316.6 214.1 L313.0 216.3 L309.4 218.5 L305.9 220.6 L302.7 222.5 L300.0 224.0 L298.0 225.1 L296.4 225.9 L295.2 226.5 L294.2 227.0 L293.2 227.4 L292.0 228.0" fill="none" stroke="#707070" stroke-width="10.5" stroke-linecap="round" filter="url(#b2)"/>
<path d="M342.0 224.0 L340.0 226.2 L338.0 228.4 L336.0 230.5 L334.0 232.7 L332.0 235.2 L330.0 238.0 L328.0 241.2 L326.0 244.7 L324.0 248.5 L322.0 252.4 L320.0 256.2 L318.0 260.0" fill="none" stroke="#707070" stroke-width="10.5" stroke-linecap="round" filter="url(#b2)"/>
<path d="M350.0 252.0 L348.4 254.0 L346.8 255.9 L345.2 257.8 L343.6 259.7 L341.9 261.8 L340.0 264.0 L337.9 266.4 L335.6 269.0 L333.2 271.8 L330.8 274.5 L328.4 277.3 L326.0 280.0" fill="none" stroke="#707070" stroke-width="10.5" stroke-linecap="round" filter="url(#b2)"/>
<path d="M320.0 278.0 L321.7 279.0 L323.3 280.0 L325.0 281.1 L326.7 282.1 L328.3 283.1 L330.0 284.0 L331.7 284.9 L333.3 285.7 L335.0 286.6 L336.7 287.4 L338.3 288.2 L340.0 289.0" fill="none" stroke="#707070" stroke-width="10.5" stroke-linecap="round" filter="url(#b2)"/>
<path d="M151.1 140.1 L154.0 139.6 L156.7 139.2 L159.4 138.9 L162.2 138.6 L165.0 138.2 L167.9 137.9 L170.7 137.6 L173.5 137.4 L176.3 137.1 L179.1 136.9 L181.7 136.6 L184.3 136.4 L186.7 136.2 L189.1 136.0 L191.5 135.8 L193.8 135.7 L196.2 135.5 L198.5 135.4 L200.8 135.2 L203.2 135.1 L205.6 135.0 L208.0 134.8 L210.4 134.5 L212.8 134.3 L215.1 134.1 L217.4 134.0 L219.6 133.8 L221.9 133.6 L224.1 133.5 L226.3 133.4 L228.5 133.3 L230.9 133.1 L233.3 133.0 L235.6 132.9 L237.8 132.8 L239.9 132.7 L242.0 132.6 L244.0 132.6 L245.9 132.6 L247.8 132.7 L249.6 132.7 L251.6 132.9 L253.7 133.0 L255.8 133.2 L257.8 133.4 L259.7 133.7 L261.7 133.9 L263.5 134.2 L265.4 134.6 L267.2 135.0 L269.0 135.4 L270.9 135.8 L272.9 136.3 L274.9 136.9 L276.9 137.5 L279.0 138.2 L281.0 138.8 L283.0 139.6 L284.9 140.3 L286.8 141.0 L288.5 141.7 L290.0 142.5 L291.4 143.2 L292.7 143.9 L294.1 144.7 L295.5 145.6 L296.9 146.4 L298.4 147.4 L299.9 148.5 L301.5 149.6 L303.2 150.8 L304.9 152.0 L306.5 153.2 L308.1 154.4 L309.6 155.6 L311.2 156.8 L312.6 158.1 L314.1 159.3 L315.6 160.6 L317.0 162.0 L318.5 163.3 L320.0 164.9 L321.5 166.5 L323.1 168.3 L324.8 170.1 L326.4 172.0 L328.0 173.9 L329.6 175.8 L331.2 177.7 L332.7 179.6 L334.1 181.4 L335.4 183.4 L336.7 185.3 L338.0 187.2 L339.1 188.9 L340.1 190.6 L341.0 192.2 L341.8 193.8 L342.6 195.2 L343.2 196.6 L343.7 197.9 L344.1 199.2 L344.5 200.6 L344.9 202.0 L345.2 203.5 L345.6 205.1 L346.0 206.9 L346.4 208.9 L346.8 211.0 L347.2 213.3 L347.7 215.6 L348.3 217.7 L348.9 219.7 L349.5 221.8 L350.1 224.1 L350.7 226.4 L351.2 228.8 L351.8 231.3 L352.4 233.9 L353.0 236.6 L353.7 239.4 L354.4 242.3 L355.1 245.1 L355.8 247.8 L356.5 250.4 L357.1 252.9 L357.7 255.4 L358.3 257.8" fill="none" stroke="#565656" stroke-width="9" filter="url(#b3)"/>
<path d="M42.1 241.3 L42.7 239.1 L43.3 236.8 L43.9 234.6 L44.6 232.3 L45.2 230.1 L45.8 227.9 L46.3 225.7 L47.0 223.4 L47.7 221.2 L48.3 219.1 L48.8 217.2 L49.4 215.3 L49.9 213.6 L50.4 212.0 L50.9 210.5 L51.4 209.1 L52.0 207.7 L52.8 206.1 L53.6 204.6 L54.5 203.1 L55.3 201.6 L56.2 200.3 L57.1 198.9 L58.0 197.6 L58.9 196.2 L59.9 194.9 L61.0 193.5 L62.2 192.1 L63.5 190.6 L64.9 189.1 L66.4 187.5 L67.9 185.8 L69.6 184.1 L71.2 182.4 L72.9 180.7 L74.7 179.0 L76.4 177.3 L78.1 175.6 L79.9 173.8 L81.6 172.0 L83.4 170.3 L85.2 168.6 L87.0 167.0 L88.7 165.4 L90.4 163.9 L92.0 162.6 L93.6 161.4 L95.1 160.1 L96.7 159.0 L98.1 157.9 L99.5 156.9 L100.9 156.0 L102.3 155.1 L103.7 154.3 L105.2 153.5 L106.7 152.6 L108.4 151.8 L110.1 151.0 L111.9 150.1 L113.8 149.3 L115.7 148.6 L117.6 147.8 L119.6 147.1 L121.6 146.4 L123.7 145.7 L125.8 145.0 L128.0 144.4 L130.1 143.9 L132.4 143.4 L134.8 142.9 L137.3 142.4 L139.9 141.9 L142.7 141.4 L145.4 141.0 L148.3 140.5 L151.1 140.1 L154.0 139.6 L156.7 139.2 L159.4 138.9 L162.2 138.6 L165.0 138.2 L167.9 137.9 L170.7 137.6 L173.5 137.4 L176.3 137.1 L179.1 136.9 L181.7 136.6 L184.3 136.4 L186.7 136.2 L189.1 136.0 L191.5 135.8 L193.8 135.7 L196.2 135.5 L198.5 135.4 L200.8 135.2 L203.2 135.1 L205.6 135.0 L208.0 134.8 L210.4 134.5 L212.8 134.3 L215.1 134.1 L217.4 134.0 L219.6 133.8 L221.9 133.6 L224.1 133.5 L226.3 133.4 L228.5 133.3 L230.9 133.1 L233.3 133.0 L235.6 132.9 L237.8 132.8 L239.9 132.7 L242.0 132.6 L244.0 132.6 L245.9 132.6 L247.8 132.7 L249.6 132.7 L251.6 132.9 L253.7 133.0 L255.8 133.2 L257.8 133.4 L259.7 133.7 L261.7 133.9 L263.5 134.2 L265.4 134.6 L267.2 135.0 L269.0 135.4 L270.9 135.8 L272.9 136.3 L274.9 136.9 L276.9 137.5 L279.0 138.2 L281.0 138.8 L283.0 139.6 L284.9 140.3 L286.8 141.0 L288.5 141.7 L290.0 142.5 L291.4 143.2 L292.7 143.9 L294.1 144.7 L295.5 145.6 L296.9 146.4 L298.4 147.4 L299.9 148.5 L301.5 149.6 L303.2 150.8 L304.9 152.0 L306.5 153.2 L308.1 154.4 L309.6 155.6 L311.2 156.8 L312.6 158.1 L314.1 159.3 L315.6 160.6 L317.0 162.0 L318.5 163.3 L320.0 164.9 L321.5 166.5 L323.1 168.3 L324.8 170.1 L326.4 172.0 L328.0 173.9 L329.6 175.8 L331.2 177.7 L332.7 179.6 L334.1 181.4 L335.4 183.4 L336.7 185.3 L338.0 187.2 L339.1 188.9 L340.1 190.6 L341.0 192.2 L341.8 193.8 L342.6 195.2 L343.2 196.6 L343.7 197.9 L344.1 199.2 L344.5 200.6 L344.9 202.0 L345.2 203.5 L345.6 205.1 L346.0 206.9 L346.4 208.9 L346.8 211.0 L347.2 213.3 L347.7 215.6 L348.3 217.7 L348.9 219.7 L349.5 221.8 L350.1 224.1 L350.7 226.4 L351.2 228.8 L351.8 231.3 L352.4 233.9 L353.0 236.6 L353.7 239.4 L354.4 242.3 L355.1 245.1 L355.8 247.8 L356.5 250.4 L357.1 252.9 L357.7 255.4 L358.3 257.8 L358.8 260.3 L359.3 262.8 L359.7 265.4 L360.2 268.4 L360.7 271.7 L361.2 275.1 L361.6 278.8 L362.0 282.5 L362.4 286.2 L362.8 289.8 L363.1 293.4 L363.3 296.7 L363.5 299.8" fill="none" stroke="#555" stroke-width="3" filter="url(#b3)"/>
<ellipse cx="266" cy="270" rx="30" ry="14" fill="#9a9a9a" filter="url(#b5)" opacity=".6"/>
<path d="M250 262 C258 255 280 257 290 266 C294 272 290 279 282 278 C272 277 262 275 254 272 C248 270 247 265 250 262 Z" fill="#1c1c1c" filter="url(#b3)"/>
<path d="M131.0 296.0 L132.7 295.7 L135.3 295.9 L138.6 296.6 L142.3 297.4 L146.2 298.3 L150.0 299.0 L153.8 299.7 L157.9 300.4 L162.1 301.2 L166.4 301.9 L170.8 302.6 L175.0 303.0 L179.2 303.3 L183.4 303.4 L187.7 303.4 L191.9 303.4 L196.0 303.2 L200.0 303.0 L204.2 302.4 L208.6 301.5 L213.0 300.4 L216.9 299.6 L220.0 299.4 L222.0 300.0 L222.7 301.8 L222.5 304.7 L221.4 308.1 L219.7 311.6 L217.5 314.7 L215.0 317.0 L211.8 318.4 L207.6 319.2 L202.9 319.7 L198.2 320.0 L193.9 320.3 L190.6 320.8 L188.4 321.5 L186.9 322.1 L185.9 322.8 L185.0 323.5 L184.0 324.2 L182.5 325.0 L180.6 326.0 L178.6 327.3 L176.4 328.6 L174.1 329.7 L171.6 330.6 L169.0 331.0 L166.1 331.0 L162.9 330.7 L159.5 330.1 L156.2 329.1 L152.9 327.8 L150.0 326.0 L147.3 323.6 L144.6 320.4 L142.1 316.9 L139.8 313.3 L137.8 309.9 L136.0 307.0 L134.4 304.5 L132.8 302.2 L131.4 300.1 L130.6 298.3 L130.3 296.9 Z" fill="#828282" filter="url(#b3)"/>
<path d="M150 309 C165 314 182 313 200 308" fill="none" stroke="#9a9a9a" stroke-width="6" filter="url(#b2)"/>
<path d="M219.0 316.0 L220.4 312.8 L222.3 310.4 L224.4 308.5 L226.9 307.0 L229.4 305.5 L232.0 304.0 L234.7 302.4 L237.6 300.9 L240.7 299.6 L243.8 298.3 L246.9 297.1 L250.0 296.0 L253.0 294.9 L255.9 293.9 L258.8 293.0 L261.7 292.2 L264.8 291.5 L268.0 291.0 L271.4 290.6 L275.0 290.4 L278.8 290.2 L282.5 290.3 L286.3 290.5 L290.0 291.0 L293.7 291.7 L297.4 292.6 L301.1 293.6 L304.8 294.9 L308.4 296.3 L312.0 298.0 L315.5 299.9 L318.9 302.0 L322.2 304.3 L325.6 306.8 L328.8 309.4 L332.0 312.0 L335.3 314.8 L338.6 317.9 L341.9 321.1 L345.0 324.3 L347.7 327.3 L350.0 330.0 L352.0 332.3 L354.0 334.2 L355.6 335.9 L356.7 337.7 L356.9 339.7 L356.0 342.0 L353.8 344.7 L350.4 347.6 L346.2 350.7 L341.6 354.0 L336.7 357.4 L332.0 361.0 L327.3 365.1 L322.1 369.6 L316.9 374.4 L311.6 379.0 L306.6 383.0 L302.0 386.0 L298.0 388.1 L294.4 389.4 L291.0 390.2 L287.6 390.5 L284.0 390.6 L280.0 390.5 L275.4 390.3 L270.3 389.7 L265.0 388.9 L259.7 387.8 L254.6 386.5 L250.0 385.0 L245.8 383.3 L241.9 381.5 L238.2 379.4 L234.7 377.0 L231.5 374.4 L228.7 371.5 L226.1 368.3 L223.8 364.7 L221.8 360.9 L220.2 356.8 L218.8 352.5 L217.8 348.0 L217.2 342.9 L216.9 337.2 L216.9 331.3 L217.3 325.5 L218.0 320.3 Z" fill="#7e7e7e" filter="url(#b3)"/>
<path d="M219.0 316.0 L220.4 312.8 L222.3 310.4 L224.4 308.5 L226.9 307.0 L229.4 305.5 L232.0 304.0 L234.7 302.4 L237.6 300.9 L240.7 299.6 L243.8 298.3 L246.9 297.1 L250.0 296.0 L253.0 294.9 L255.9 293.9 L258.8 293.0 L261.7 292.2 L264.8 291.5 L268.0 291.0 L271.4 290.6 L275.0 290.4 L278.8 290.2 L282.5 290.3 L286.3 290.5 L290.0 291.0 L293.7 291.7 L297.4 292.6 L301.1 293.6 L304.8 294.9 L308.4 296.3 L312.0 298.0 L315.5 299.9 L318.9 302.0 L322.2 304.3 L325.6 306.8 L328.8 309.4 L332.0 312.0 L335.3 314.8 L338.6 317.9 L341.9 321.1 L345.0 324.3 L347.7 327.3 L350.0 330.0 L352.0 332.3 L354.0 334.2 L355.6 335.9 L356.7 337.7 L356.9 339.7 L356.0 342.0 L353.8 344.7 L350.4 347.6 L346.2 350.7 L341.6 354.0 L336.7 357.4 L332.0 361.0 L327.3 365.1 L322.1 369.6 L316.9 374.4 L311.6 379.0 L306.6 383.0 L302.0 386.0 L298.0 388.1 L294.4 389.4 L291.0 390.2 L287.6 390.5 L284.0 390.6 L280.0 390.5 L275.4 390.3 L270.3 389.7 L265.0 388.9 L259.7 387.8 L254.6 386.5 L250.0 385.0 L245.8 383.3 L241.9 381.5 L238.2 379.4 L234.7 377.0 L231.5 374.4 L228.7 371.5 L226.1 368.3 L223.8 364.7 L221.8 360.9 L220.2 356.8 L218.8 352.5 L217.8 348.0 L217.2 342.9 L216.9 337.2 L216.9 331.3 L217.3 325.5 L218.0 320.3 Z" fill="none" stroke="#666" stroke-width="2" filter="url(#b3)"/>
<path d="M273.3 332.3 L332.5 318.6" fill="none" stroke="#949494" stroke-width="3" filter="url(#b3)" opacity=".6"/>
<path d="M286.6 332.2 L338.8 326.3" fill="none" stroke="#6a6a6a" stroke-width="2" filter="url(#b3)" opacity=".5"/>
<path d="M274.0 335.0 L337.0 335.0" fill="none" stroke="#949494" stroke-width="3" filter="url(#b3)" opacity=".6"/>
<path d="M286.6 337.8 L338.8 343.7" fill="none" stroke="#6a6a6a" stroke-width="2" filter="url(#b3)" opacity=".5"/>
<path d="M273.3 337.7 L332.5 351.4" fill="none" stroke="#949494" stroke-width="3" filter="url(#b3)" opacity=".6"/>
<path d="M283.7 343.0 L329.5 360.0" fill="none" stroke="#6a6a6a" stroke-width="2" filter="url(#b3)" opacity=".5"/>
<path d="M271.2 340.1 L319.5 365.9" fill="none" stroke="#949494" stroke-width="3" filter="url(#b3)" opacity=".6"/>
<path d="M278.1 347.3 L312.1 373.3" fill="none" stroke="#6a6a6a" stroke-width="2" filter="url(#b3)" opacity=".5"/>
<path d="M268.0 341.9 L299.5 376.6" fill="none" stroke="#949494" stroke-width="3" filter="url(#b3)" opacity=".6"/>
<path d="M270.6 350.0 L288.7 382.0" fill="none" stroke="#6a6a6a" stroke-width="2" filter="url(#b3)" opacity=".5"/>
<path d="M264.1 342.9 L275.0 382.3" fill="none" stroke="#949494" stroke-width="3" filter="url(#b3)" opacity=".6"/>
<path d="M262.0 351.0 L262.0 385.0" fill="none" stroke="#6a6a6a" stroke-width="2" filter="url(#b3)" opacity=".5"/>
<path d="M259.9 342.9 L249.0 382.3" fill="none" stroke="#949494" stroke-width="3" filter="url(#b3)" opacity=".6"/>
<path d="M253.4 350.0 L235.3 382.0" fill="none" stroke="#6a6a6a" stroke-width="2" filter="url(#b3)" opacity=".5"/>
<path d="M256.0 341.9 L224.5 376.6" fill="none" stroke="#949494" stroke-width="3" filter="url(#b3)" opacity=".6"/>
<path d="M245.9 347.3 L211.9 373.3" fill="none" stroke="#6a6a6a" stroke-width="2" filter="url(#b3)" opacity=".5"/>
<path d="M252.8 340.1 L204.5 365.9" fill="none" stroke="#949494" stroke-width="3" filter="url(#b3)" opacity=".6"/>
<path d="M240.3 343.0 L194.5 360.0" fill="none" stroke="#6a6a6a" stroke-width="2" filter="url(#b3)" opacity=".5"/>
<path d="M250.7 337.7 L191.5 351.4" fill="none" stroke="#949494" stroke-width="3" filter="url(#b3)" opacity=".6"/>
<path d="M237.4 337.8 L185.2 343.7" fill="none" stroke="#6a6a6a" stroke-width="2" filter="url(#b3)" opacity=".5"/>
<path d="M250.0 335.0 L187.0 335.0" fill="none" stroke="#949494" stroke-width="3" filter="url(#b3)" opacity=".6"/>
<path d="M237.4 332.2 L185.2 326.3" fill="none" stroke="#6a6a6a" stroke-width="2" filter="url(#b3)" opacity=".5"/>
</g>
<path d="M363 300 C361 330 345 352 325 368" fill="none" stroke="#141414" stroke-width="5" stroke-linecap="round" filter="url(#b1)"/>
<path d="M325 368 C305 384 285 392 262 391 C240 388 224 372 217 348 L215 318" fill="none" stroke="#222" stroke-width="3.6" filter="url(#b1)"/>
<path d="M366 338 C360 352 348 366 333 378 C318 390 300 399 284 404" fill="none" stroke="#b2b2b2" stroke-width="11" stroke-linecap="round" filter="url(#b3)"/>
<path d="M362 344 C354 358 342 370 328 380" fill="none" stroke="#8e8e8e" stroke-width="4" stroke-linecap="round" filter="url(#b2)"/>
<path d="M218 360 C232 386 262 398 300 394 L296 410 L210 410 Z" fill="#c4c4c4" filter="url(#b3)"/>
<path d="M40 256 C46 262 56 268 66 270 C88 277 112 285 136 292" fill="none" stroke="#151515" stroke-width="6" filter="url(#b1)"/>
<path d="M33 250 L50 246 L62 266 L44 276 L33 268 Z" fill="#111" filter="url(#b3)"/>
<path d="M36 282 C50 274 62 274 88 282 L142 297 L143 316 L122 320 L100 317 L86 321 L62 333 L50 337 L44 310 Z" fill="#efefef"/>
<circle cx="67.4" cy="305.6" r="12.5" fill="#1d1d1d" filter="url(#b2)"/>
<circle cx="67.4" cy="305.6" r="8" fill="#1a1a1a" filter="url(#b3)"/>
<path d="M98 290 L126 300" stroke="#444" stroke-width="3" filter="url(#b3)"/>
<path d="M92 309 L122 311" stroke="#333" stroke-width="3.5" filter="url(#b3)"/>
<path d="M104 322 L120 321 L127 336 L123 362 L119 410 L55 410 L52 388 L56 372 L68 355 L85 339 Z" fill="#0d0d0d" filter="url(#b3)"/>
<path d="M122 322 L136 300 L150 326 L169 333 L190 322 L215 318 L218 350 L230 374 L250 388 L250 410 L119 410 L123 362 Z" fill="#dcdcdc"/>
<rect x="172.5" y="365.4" width="12.4" height="6.8" transform="rotate(43 178.7 368.8)" fill="#fff" filter="url(#b3)"/>
<rect x="142.6" y="384.5" width="8.8" height="7.7" transform="rotate(-49 147.0 388.3)" fill="#fafafa" filter="url(#b3)"/>
<rect x="155.0" y="327.2" width="11.5" height="8.2" transform="rotate(11 160.7 331.3)" fill="#fff" filter="url(#b3)"/>
<rect x="166.5" y="356.3" width="10.9" height="7.9" transform="rotate(-58 171.9 360.2)" fill="#999" filter="url(#b3)"/>
<rect x="184.7" y="326.0" width="6.5" height="5.5" transform="rotate(33 187.9 328.8)" fill="#fff" filter="url(#b3)"/>
<rect x="160.2" y="368.6" width="6.6" height="5.4" transform="rotate(-0 163.5 371.3)" fill="#2a2a2a" filter="url(#b3)"/>
<rect x="200.5" y="355.6" width="7.2" height="10.0" transform="rotate(25 204.2 360.6)" fill="#7a7a7a" filter="url(#b3)"/>
<rect x="158.5" y="340.2" width="7.3" height="4.4" transform="rotate(-12 162.1 342.4)" fill="#7a7a7a" filter="url(#b3)"/>
<rect x="237.4" y="389.2" width="5.0" height="5.3" transform="rotate(-4 239.9 391.8)" fill="#fff" filter="url(#b3)"/>
<rect x="127.2" y="371.5" width="11.2" height="5.6" transform="rotate(-23 132.8 374.4)" fill="#7a7a7a" filter="url(#b3)"/>
<rect x="119.6" y="354.4" width="12.4" height="4.8" transform="rotate(-59 125.8 356.8)" fill="#7a7a7a" filter="url(#b3)"/>
<rect x="175.0" y="360.4" width="10.5" height="5.1" transform="rotate(-37 180.3 362.9)" fill="#fff" filter="url(#b3)"/>
<rect x="197.7" y="330.7" width="8.4" height="5.3" transform="rotate(44 201.9 333.3)" fill="#2a2a2a" filter="url(#b3)"/>
<rect x="141.8" y="399.9" width="9.8" height="7.5" transform="rotate(59 146.7 403.7)" fill="#fff" filter="url(#b3)"/>
<rect x="144.2" y="341.7" width="11.2" height="6.0" transform="rotate(-14 149.8 344.7)" fill="#2a2a2a" filter="url(#b3)"/>
<rect x="127.9" y="338.7" width="10.1" height="4.1" transform="rotate(-15 133.0 340.7)" fill="#5a5a5a" filter="url(#b3)"/>
<rect x="174.4" y="397.0" width="8.9" height="7.4" transform="rotate(-38 178.8 400.7)" fill="#808080" filter="url(#b3)"/>
<rect x="136.9" y="393.9" width="11.5" height="5.5" transform="rotate(-41 142.7 396.7)" fill="#3a3a3a" filter="url(#b3)"/>
<rect x="194.9" y="365.1" width="10.5" height="6.3" transform="rotate(12 200.1 368.3)" fill="#6a6a6a" filter="url(#b3)"/>
<rect x="172.3" y="327.4" width="5.3" height="9.8" transform="rotate(29 175.0 332.3)" fill="#3a3a3a" filter="url(#b3)"/>
<rect x="165.3" y="354.2" width="12.2" height="6.9" transform="rotate(-39 171.4 357.7)" fill="#fff" filter="url(#b3)"/>
<rect x="207.7" y="325.8" width="6.8" height="7.4" transform="rotate(14 211.2 329.5)" fill="#999" filter="url(#b3)"/>
<rect x="154.6" y="395.3" width="6.6" height="4.1" transform="rotate(-11 157.9 397.4)" fill="#2a2a2a" filter="url(#b3)"/>
<rect x="150.5" y="324.1" width="7.3" height="7.2" transform="rotate(-49 154.1 327.7)" fill="#fafafa" filter="url(#b3)"/>
<rect x="136.9" y="355.8" width="7.6" height="8.4" transform="rotate(10 140.7 360.0)" fill="#fff" filter="url(#b3)"/>
<rect x="138.4" y="322.1" width="5.1" height="9.5" transform="rotate(56 141.0 326.8)" fill="#2a2a2a" filter="url(#b3)"/>
<rect x="122.1" y="370.7" width="8.9" height="8.4" transform="rotate(-44 126.6 374.9)" fill="#5a5a5a" filter="url(#b3)"/>
<rect x="128.8" y="358.1" width="7.9" height="4.3" transform="rotate(35 132.8 360.2)" fill="#fafafa" filter="url(#b3)"/>
<rect x="200.9" y="392.8" width="12.0" height="6.5" transform="rotate(44 206.9 396.1)" fill="#fff" filter="url(#b3)"/>
<rect x="189.3" y="370.2" width="8.1" height="7.5" transform="rotate(-51 193.3 374.0)" fill="#999" filter="url(#b3)"/>
<rect x="131.4" y="330.0" width="7.1" height="6.5" transform="rotate(-13 135.0 333.2)" fill="#5a5a5a" filter="url(#b3)"/>
<rect x="208.7" y="366.0" width="8.5" height="9.0" transform="rotate(2 212.9 370.5)" fill="#7a7a7a" filter="url(#b3)"/>
<rect x="183.4" y="346.8" width="5.7" height="4.1" transform="rotate(-0 186.3 348.8)" fill="#7a7a7a" filter="url(#b3)"/>
<rect x="194.8" y="395.6" width="7.0" height="4.1" transform="rotate(-43 198.4 397.6)" fill="#2a2a2a" filter="url(#b3)"/>
<rect x="192.5" y="362.4" width="11.0" height="6.1" transform="rotate(-0 198.0 365.5)" fill="#6a6a6a" filter="url(#b3)"/>
<rect x="149.7" y="352.5" width="7.0" height="7.8" transform="rotate(46 153.2 356.4)" fill="#3a3a3a" filter="url(#b3)"/>
<rect x="166.7" y="368.2" width="7.5" height="4.8" transform="rotate(-18 170.5 370.6)" fill="#6a6a6a" filter="url(#b3)"/>
<rect x="126.0" y="400.1" width="11.6" height="4.7" transform="rotate(-27 131.8 402.4)" fill="#6a6a6a" filter="url(#b3)"/>
<rect x="144.9" y="353.6" width="10.0" height="7.0" transform="rotate(26 149.9 357.1)" fill="#5a5a5a" filter="url(#b3)"/>
<rect x="222.1" y="369.5" width="7.6" height="9.0" transform="rotate(45 225.9 374.0)" fill="#2a2a2a" filter="url(#b3)"/>
<rect x="124.2" y="377.8" width="9.6" height="5.9" transform="rotate(-58 129.0 380.7)" fill="#999" filter="url(#b3)"/>
<rect x="137.8" y="355.9" width="5.2" height="9.0" transform="rotate(34 140.4 360.4)" fill="#3a3a3a" filter="url(#b3)"/>
<rect x="217.5" y="400.4" width="5.9" height="4.7" transform="rotate(19 220.4 402.7)" fill="#fff" filter="url(#b3)"/>
<rect x="216.5" y="398.1" width="10.5" height="5.2" transform="rotate(-29 221.7 400.7)" fill="#6a6a6a" filter="url(#b3)"/>
<rect x="205.8" y="382.3" width="9.3" height="4.2" transform="rotate(-27 210.4 384.4)" fill="#3a3a3a" filter="url(#b3)"/>
<rect x="161.3" y="375.9" width="9.2" height="7.7" transform="rotate(-13 165.8 379.8)" fill="#fafafa" filter="url(#b3)"/>
<rect x="217.0" y="391.7" width="5.7" height="9.6" transform="rotate(-44 219.8 396.5)" fill="#808080" filter="url(#b3)"/>
<rect x="172.7" y="370.9" width="12.3" height="6.3" transform="rotate(18 178.9 374.0)" fill="#999" filter="url(#b3)"/>
<rect x="180.9" y="386.6" width="7.7" height="6.0" transform="rotate(-48 184.8 389.6)" fill="#3a3a3a" filter="url(#b3)"/>
<rect x="222.6" y="385.5" width="12.4" height="4.7" transform="rotate(48 228.8 387.9)" fill="#3a3a3a" filter="url(#b3)"/>
<rect x="238.0" y="397.8" width="9.3" height="8.7" transform="rotate(-29 242.6 402.2)" fill="#5a5a5a" filter="url(#b3)"/>
<rect x="206.4" y="323.1" width="9.0" height="4.2" transform="rotate(6 210.9 325.3)" fill="#5a5a5a" filter="url(#b3)"/>
<path d="M190 324 L214 320 L216 350 L204 356 L194 345 Z" fill="#fbfbfb" filter="url(#b1)"/>
<path d="M205 322 L212 350" stroke="#333" stroke-width="2.5" filter="url(#b3)"/>
<ellipse cx="223" cy="333" rx="5.5" ry="13" fill="#262626" filter="url(#b3)"/>
</g>
<rect x="3" y="72" width="400" height="331" filter="url(#nz)"/>
</g>
</svg>
    <svg class="abs" style="left:0;top:0" width="400" height="399" viewBox="3 37 400 399">
      <g fill="none" stroke-width="1.2">
        <rect x="139.8" y="189" width="9.6" height="9.6" stroke="#22e0e8"/>
        <rect x="220.6" y="189.6" width="7.8" height="7.8" stroke="#e81818"/>
        <rect x="286.6" y="200.6" width="7.8" height="7.8" stroke="#e88a18"/>
        <rect x="137.6" y="226.8" width="7.8" height="7.8" stroke="#f0e818"/>
        <rect x="228.6" y="226.8" width="7.8" height="7.8" stroke="#e818e0"/>
        <rect x="195.6" y="244.8" width="7.8" height="7.8" stroke="#1818e8"/>
        <rect x="235.6" y="284.6" width="7.8" height="7.8" stroke="#30e030"/>
      </g>
      <g stroke="#000" stroke-width="2.6" fill="none" opacity=".55">
        <path d="M381 143.5 H390.5 V331.5 H381"/>
      </g>
      <g stroke="#f2f2f2" stroke-width="1" fill="none" shape-rendering="crispEdges">
        <path d="M381 143.5 H390.5 V331.5 H381"/>
        <path d="M387.5 162.5 H390 M387.5 181.5 H390 M387.5 199.5 H390 M387.5 218.5 H390 M384 237.5 H390 M387.5 256.5 H390 M387.5 275.5 H390 M387.5 293.5 H390 M387.5 312.5 H390"/>
      </g>
    </svg>
    <div class="mt" style="left:343.5px;top:195px;font-size:12.3px;line-height:14px;color:#fff;-webkit-text-stroke:0;">10 cm</div>
    <div class="mt" style="left:4px;top:4px;">Proband
19780101  M
001
(- - -):
 GV</div>
    <div class="mt r" style="top:4px;">Klinikum Bremen Mitte
<span style="letter-spacing:.48px;margin-right:-.48px">NUMARIS/4</span>
<span style="letter-spacing:.6px;margin-right:-.6px">MR</span></div>
    <div class="mt big" style="left:192.5px;top:5.5px;">H</div>
    <div class="mt big" style="left:3px;top:188.5px;">A</div>
    <div class="mt" style="left:4px;top:282px;">Slice: 54
Timepoint: 0
109,91,80,Gray,1
1.953,1.953,2.000
t1_mpr_sag_VICORA
MeVisLab</div>
    <div class="mt r" style="top:339px;">MR Mode
Scan: 20070616
<span style="letter-spacing:.6px">LUT C/W:</span> 439.962 / 932.866</div>
  </div>
</div>
<!-- RIGHT WINDOW: Viewer SoExaminerViewer -->
<div class="abs" style="left:1432px;top:4px;width:4px;height:449px;background:#d6d6d6;"><svg width="4" height="449"><defs><pattern id="chk" width="2" height="2" patternUnits="userSpaceOnUse"><rect width="2" height="2" fill="#fdfdfd"/><rect width="1" height="1" fill="#b4b4b4"/><rect x="1" y="1" width="1" height="1" fill="#b4b4b4"/></pattern></defs><rect width="4" height="449" fill="url(#chk)" shape-rendering="crispEdges"/></svg></div>
<div class="abs" style="left:1432px;top:0;width:4px;height:4px;background:#e6e6e6;"></div>
<div class="win" style="left:1030px;top:13px;width:400px;height:430px;background:#f0f0f0;">
  <div class="title">
    <svg class="abs" style="left:7.5px;top:5.5px" width="17" height="17" viewBox="0 0 17 17">
      <circle cx="8.5" cy="8.55" r="7.95" fill="url(#ig)"/>
      <path d="M3.0 6.5 L10.9 6.4 L13.5 4.7 L14.6 6.3 L11.2 8.5 L11.2 13.5 Q8.5 14.9 5.8 13.5 L5.8 8.4 L3.0 8.4 Z" fill="#f6f6f6"/>
      <path d="M6.7 2.8 L8.7 3.8 L10.7 2.8 L10.5 5.1 Q8.7 6.8 6.9 5.1 Z" fill="#f6f6f6"/>
    </svg>
    <div class="txt" style="left:29px;">Viewer SoExaminerViewer</div>
    <svg class="ctl" style="left:270px;" width="130" height="30" viewBox="0 0 130 30">
      <g stroke="#8a8a8a" stroke-width="1" fill="none" shape-rendering="crispEdges">
        <line x1="11" y1="14.5" x2="21" y2="14.5"/>
        <rect x="56.5" y="9.5" width="9" height="9"/>
      </g>
      <g stroke="#8a8a8a" stroke-width="1" fill="none">
        <line x1="102" y1="9" x2="112" y2="19"/><line x1="112" y1="9" x2="102" y2="19"/>
      </g>
    </svg>
  </div>
  <!-- viewport -->
  <div class="abs" style="left:28px;top:30px;width:333px;height:372px;background:#000;"></div>
  <svg class="abs" style="left:28px;top:30px" width="333" height="372" viewBox="1058 43 333 372">
    <defs><radialGradient id="dot" cx=".42" cy=".4" r=".62"><stop offset="0" stop-color="#fff"/><stop offset=".6" stop-color="#eee"/><stop offset="1" stop-color="#777"/></radialGradient></defs>
    <g fill="url(#dot)">
      <circle cx="1089.3" cy="144.8" r="3"/>
      <circle cx="1240.2" cy="144.8" r="3"/>
      <circle cx="1348.3" cy="163.2" r="2.6"/>
      <circle cx="1086.7" cy="214.4" r="3"/>
      <circle cx="1252.1" cy="209.2" r="3"/>
      <circle cx="1196.1" cy="242.7" r="3"/>
      <circle cx="1262.7" cy="303.6" r="2.8"/>
    </g>
  </svg>
  <svg class="abs" style="left:0;top:0" width="400" height="430" viewBox="1030 13 400 430" shape-rendering="crispEdges">
<defs><linearGradient id="wgv" x1="0" y1="0" x2="0" y2="1"><stop offset="0.000" stop-color="rgb(52,52,52)"/><stop offset="0.042" stop-color="rgb(74,74,74)"/><stop offset="0.083" stop-color="rgb(92,92,92)"/><stop offset="0.125" stop-color="rgb(108,108,108)"/><stop offset="0.167" stop-color="rgb(121,121,121)"/><stop offset="0.208" stop-color="rgb(133,133,133)"/><stop offset="0.250" stop-color="rgb(143,143,143)"/><stop offset="0.292" stop-color="rgb(151,151,151)"/><stop offset="0.333" stop-color="rgb(158,158,158)"/><stop offset="0.375" stop-color="rgb(163,163,163)"/><stop offset="0.417" stop-color="rgb(167,167,167)"/><stop offset="0.458" stop-color="rgb(169,169,169)"/><stop offset="0.500" stop-color="rgb(170,170,170)"/><stop offset="0.542" stop-color="rgb(169,169,169)"/><stop offset="0.583" stop-color="rgb(167,167,167)"/><stop offset="0.625" stop-color="rgb(163,163,163)"/><stop offset="0.667" stop-color="rgb(158,158,158)"/><stop offset="0.708" stop-color="rgb(151,151,151)"/><stop offset="0.750" stop-color="rgb(143,143,143)"/><stop offset="0.792" stop-color="rgb(133,133,133)"/><stop offset="0.833" stop-color="rgb(121,121,121)"/><stop offset="0.875" stop-color="rgb(108,108,108)"/><stop offset="0.917" stop-color="rgb(92,92,92)"/><stop offset="0.958" stop-color="rgb(74,74,74)"/><stop offset="1.000" stop-color="rgb(52,52,52)"/></linearGradient><linearGradient id="wgh" x1="0" y1="0" x2="1" y2="0"><stop offset="0.000" stop-color="rgb(52,52,52)"/><stop offset="0.042" stop-color="rgb(74,74,74)"/><stop offset="0.083" stop-color="rgb(92,92,92)"/><stop offset="0.125" stop-color="rgb(108,108,108)"/><stop offset="0.167" stop-color="rgb(121,121,121)"/><stop offset="0.208" stop-color="rgb(133,133,133)"/><stop offset="0.250" stop-color="rgb(143,143,143)"/><stop offset="0.292" stop-color="rgb(151,151,151)"/><stop offset="0.333" stop-color="rgb(158,158,158)"/><stop offset="0.375" stop-color="rgb(163,163,163)"/><stop offset="0.417" stop-color="rgb(167,167,167)"/><stop offset="0.458" stop-color="rgb(169,169,169)"/><stop offset="0.500" stop-color="rgb(170,170,170)"/><stop offset="0.542" stop-color="rgb(169,169,169)"/><stop offset="0.583" stop-color="rgb(167,167,167)"/><stop offset="0.625" stop-color="rgb(163,163,163)"/><stop offset="0.667" stop-color="rgb(158,158,158)"/><stop offset="0.708" stop-color="rgb(151,151,151)"/><stop offset="0.750" stop-color="rgb(143,143,143)"/><stop offset="0.792" stop-color="rgb(133,133,133)"/><stop offset="0.833" stop-color="rgb(121,121,121)"/><stop offset="0.875" stop-color="rgb(108,108,108)"/><stop offset="0.917" stop-color="rgb(92,92,92)"/><stop offset="0.958" stop-color="rgb(74,74,74)"/><stop offset="1.000" stop-color="rgb(52,52,52)"/></linearGradient></defs>
<rect x="1034" y="285" width="19" height="125" fill="#fff"/><rect x="1034" y="285" width="18" height="124" fill="#808080"/><rect x="1035" y="286" width="17" height="123" fill="#dcdcdc"/><rect x="1036" y="287" width="15" height="121" fill="#1c1c1c"/>
<rect x="1037.5" y="288" width="12.5" height="119" fill="url(#wgv)"/>
<rect x="1037.5" y="288.21" width="12.5" height="0.70" fill="rgb(18,18,18)"/>
<rect x="1037.5" y="287.83" width="12.5" height="0.38" fill="#fff" opacity="0.02"/>
<rect x="1037.5" y="289.89" width="12.5" height="0.70" fill="rgb(18,18,18)"/>
<rect x="1037.5" y="289.25" width="12.5" height="0.64" fill="#fff" opacity="0.03"/>
<rect x="1037.5" y="292.40" width="12.5" height="0.70" fill="rgb(18,18,18)"/>
<rect x="1037.5" y="291.50" width="12.5" height="0.89" fill="#fff" opacity="0.04"/>
<rect x="1037.5" y="295.70" width="12.5" height="0.70" fill="rgb(25,25,25)"/>
<rect x="1037.5" y="294.57" width="12.5" height="1.13" fill="#fff" opacity="0.05"/>
<rect x="1037.5" y="299.74" width="12.5" height="0.70" fill="rgb(38,38,38)"/>
<rect x="1037.5" y="298.40" width="12.5" height="1.35" fill="#fff" opacity="0.06"/>
<rect x="1037.5" y="304.40" width="12.5" height="0.77" fill="rgb(52,52,52)"/>
<rect x="1037.5" y="302.85" width="12.5" height="1.55" fill="#fff" opacity="0.07"/>
<rect x="1037.5" y="309.66" width="12.5" height="0.86" fill="rgb(66,66,66)"/>
<rect x="1037.5" y="307.94" width="12.5" height="1.72" fill="#fff" opacity="0.08"/>
<rect x="1037.5" y="315.47" width="12.5" height="0.94" fill="rgb(78,78,78)"/>
<rect x="1037.5" y="316.41" width="12.5" height="1.15" fill="#fff" opacity="0.44"/>
<rect x="1037.5" y="313.60" width="12.5" height="1.88" fill="#fff" opacity="0.09"/>
<rect x="1037.5" y="321.75" width="12.5" height="1.00" fill="rgb(89,89,89)"/>
<rect x="1037.5" y="322.75" width="12.5" height="1.15" fill="#fff" opacity="0.91"/>
<rect x="1037.5" y="319.75" width="12.5" height="2.00" fill="#fff" opacity="0.09"/>
<rect x="1037.5" y="328.41" width="12.5" height="1.05" fill="rgb(98,98,98)"/>
<rect x="1037.5" y="329.46" width="12.5" height="1.15" fill="#fff" opacity="1.00"/>
<rect x="1037.5" y="326.31" width="12.5" height="2.10" fill="#fff" opacity="0.10"/>
<rect x="1037.5" y="335.34" width="12.5" height="1.08" fill="rgb(104,104,104)"/>
<rect x="1037.5" y="336.42" width="12.5" height="1.15" fill="#fff" opacity="1.00"/>
<rect x="1037.5" y="333.18" width="12.5" height="2.16" fill="#fff" opacity="0.10"/>
<rect x="1037.5" y="342.45" width="12.5" height="1.10" fill="rgb(107,107,107)"/>
<rect x="1037.5" y="343.55" width="12.5" height="1.15" fill="#fff" opacity="1.00"/>
<rect x="1037.5" y="340.26" width="12.5" height="2.20" fill="#fff" opacity="0.10"/>
<rect x="1037.5" y="349.64" width="12.5" height="1.10" fill="rgb(107,107,107)"/>
<rect x="1037.5" y="350.73" width="12.5" height="1.15" fill="#fff" opacity="1.00"/>
<rect x="1037.5" y="347.44" width="12.5" height="2.20" fill="#fff" opacity="0.10"/>
<rect x="1037.5" y="356.79" width="12.5" height="1.08" fill="rgb(104,104,104)"/>
<rect x="1037.5" y="357.87" width="12.5" height="1.15" fill="#fff" opacity="1.00"/>
<rect x="1037.5" y="354.62" width="12.5" height="2.17" fill="#fff" opacity="0.10"/>
<rect x="1037.5" y="363.81" width="12.5" height="1.05" fill="rgb(98,98,98)"/>
<rect x="1037.5" y="364.86" width="12.5" height="1.15" fill="#fff" opacity="1.00"/>
<rect x="1037.5" y="361.70" width="12.5" height="2.10" fill="#fff" opacity="0.10"/>
<rect x="1037.5" y="370.59" width="12.5" height="1.01" fill="rgb(90,90,90)"/>
<rect x="1037.5" y="371.59" width="12.5" height="1.15" fill="#fff" opacity="0.95"/>
<rect x="1037.5" y="368.57" width="12.5" height="2.01" fill="#fff" opacity="0.09"/>
<rect x="1037.5" y="377.03" width="12.5" height="0.94" fill="rgb(79,79,79)"/>
<rect x="1037.5" y="377.97" width="12.5" height="1.15" fill="#fff" opacity="0.49"/>
<rect x="1037.5" y="375.14" width="12.5" height="1.89" fill="#fff" opacity="0.09"/>
<rect x="1037.5" y="383.04" width="12.5" height="0.87" fill="rgb(67,67,67)"/>
<rect x="1037.5" y="381.30" width="12.5" height="1.74" fill="#fff" opacity="0.08"/>
<rect x="1037.5" y="388.54" width="12.5" height="0.78" fill="rgb(53,53,53)"/>
<rect x="1037.5" y="386.97" width="12.5" height="1.57" fill="#fff" opacity="0.07"/>
<rect x="1037.5" y="393.41" width="12.5" height="0.70" fill="rgb(40,40,40)"/>
<rect x="1037.5" y="392.05" width="12.5" height="1.37" fill="#fff" opacity="0.06"/>
<rect x="1037.5" y="397.53" width="12.5" height="0.70" fill="rgb(26,26,26)"/>
<rect x="1037.5" y="396.38" width="12.5" height="1.15" fill="#fff" opacity="0.05"/>
<rect x="1037.5" y="400.91" width="12.5" height="0.70" fill="rgb(18,18,18)"/>
<rect x="1037.5" y="399.99" width="12.5" height="0.92" fill="#fff" opacity="0.04"/>
<rect x="1037.5" y="403.50" width="12.5" height="0.70" fill="rgb(18,18,18)"/>
<rect x="1037.5" y="402.83" width="12.5" height="0.67" fill="#fff" opacity="0.03"/>
<rect x="1037.5" y="405.26" width="12.5" height="0.70" fill="rgb(18,18,18)"/>
<rect x="1037.5" y="404.85" width="12.5" height="0.41" fill="#fff" opacity="0.02"/>
<rect x="1400" y="285" width="20" height="125" fill="#fff"/><rect x="1400" y="285" width="19" height="124" fill="#808080"/><rect x="1401" y="286" width="18" height="123" fill="#dcdcdc"/><rect x="1402" y="287" width="16" height="121" fill="#1c1c1c"/>
<rect x="1403.5" y="288" width="13.5" height="119" fill="url(#wgv)"/>
<rect x="1403.5" y="288.21" width="13.5" height="0.70" fill="rgb(18,18,18)"/>
<rect x="1403.5" y="287.83" width="13.5" height="0.38" fill="#fff" opacity="0.02"/>
<rect x="1403.5" y="289.89" width="13.5" height="0.70" fill="rgb(18,18,18)"/>
<rect x="1403.5" y="289.25" width="13.5" height="0.64" fill="#fff" opacity="0.03"/>
<rect x="1403.5" y="292.40" width="13.5" height="0.70" fill="rgb(18,18,18)"/>
<rect x="1403.5" y="291.50" width="13.5" height="0.89" fill="#fff" opacity="0.04"/>
<rect x="1403.5" y="295.70" width="13.5" height="0.70" fill="rgb(25,25,25)"/>
<rect x="1403.5" y="294.57" width="13.5" height="1.13" fill="#fff" opacity="0.05"/>
<rect x="1403.5" y="299.74" width="13.5" height="0.70" fill="rgb(38,38,38)"/>
<rect x="1403.5" y="298.40" width="13.5" height="1.35" fill="#fff" opacity="0.06"/>
<rect x="1403.5" y="304.40" width="13.5" height="0.77" fill="rgb(52,52,52)"/>
<rect x="1403.5" y="302.85" width="13.5" height="1.55" fill="#fff" opacity="0.07"/>
<rect x="1403.5" y="309.66" width="13.5" height="0.86" fill="rgb(66,66,66)"/>
<rect x="1403.5" y="307.94" width="13.5" height="1.72" fill="#fff" opacity="0.08"/>
<rect x="1403.5" y="315.47" width="13.5" height="0.94" fill="rgb(78,78,78)"/>
<rect x="1403.5" y="316.41" width="13.5" height="1.15" fill="#fff" opacity="0.44"/>
<rect x="1403.5" y="313.60" width="13.5" height="1.88" fill="#fff" opacity="0.09"/>
<rect x="1403.5" y="321.75" width="13.5" height="1.00" fill="rgb(89,89,89)"/>
<rect x="1403.5" y="322.75" width="13.5" height="1.15" fill="#fff" opacity="0.91"/>
<rect x="1403.5" y="319.75" width="13.5" height="2.00" fill="#fff" opacity="0.09"/>
<rect x="1403.5" y="328.41" width="13.5" height="1.05" fill="rgb(98,98,98)"/>
<rect x="1403.5" y="329.46" width="13.5" height="1.15" fill="#fff" opacity="1.00"/>
<rect x="1403.5" y="326.31" width="13.5" height="2.10" fill="#fff" opacity="0.10"/>
<rect x="1403.5" y="335.34" width="13.5" height="1.08" fill="rgb(104,104,104)"/>
<rect x="1403.5" y="336.42" width="13.5" height="1.15" fill="#fff" opacity="1.00"/>
<rect x="1403.5" y="333.18" width="13.5" height="2.16" fill="#fff" opacity="0.10"/>
<rect x="1403.5" y="342.45" width="13.5" height="1.10" fill="rgb(107,107,107)"/>
<rect x="1403.5" y="343.55" width="13.5" height="1.15" fill="#fff" opacity="1.00"/>
<rect x="1403.5" y="340.26" width="13.5" height="2.20" fill="#fff" opacity="0.10"/>
<rect x="1403.5" y="349.64" width="13.5" height="1.10" fill="rgb(107,107,107)"/>
<rect x="1403.5" y="350.73" width="13.5" height="1.15" fill="#fff" opacity="1.00"/>
<rect x="1403.5" y="347.44" width="13.5" height="2.20" fill="#fff" opacity="0.10"/>
<rect x="1403.5" y="356.79" width="13.5" height="1.08" fill="rgb(104,104,104)"/>
<rect x="1403.5" y="357.87" width="13.5" height="1.15" fill="#fff" opacity="1.00"/>
<rect x="1403.5" y="354.62" width="13.5" height="2.17" fill="#fff" opacity="0.10"/>
<rect x="1403.5" y="363.81" width="13.5" height="1.05" fill="rgb(98,98,98)"/>
<rect x="1403.5" y="364.86" width="13.5" height="1.15" fill="#fff" opacity="1.00"/>
<rect x="1403.5" y="361.70" width="13.5" height="2.10" fill="#fff" opacity="0.10"/>
<rect x="1403.5" y="370.59" width="13.5" height="1.01" fill="rgb(90,90,90)"/>
<rect x="1403.5" y="371.59" width="13.5" height="1.15" fill="#fff" opacity="0.95"/>
<rect x="1403.5" y="368.57" width="13.5" height="2.01" fill="#fff" opacity="0.09"/>
<rect x="1403.5" y="377.03" width="13.5" height="0.94" fill="rgb(79,79,79)"/>
<rect x="1403.5" y="377.97" width="13.5" height="1.15" fill="#fff" opacity="0.49"/>
<rect x="1403.5" y="375.14" width="13.5" height="1.89" fill="#fff" opacity="0.09"/>
<rect x="1403.5" y="383.04" width="13.5" height="0.87" fill="rgb(67,67,67)"/>
<rect x="1403.5" y="381.30" width="13.5" height="1.74" fill="#fff" opacity="0.08"/>
<rect x="1403.5" y="388.54" width="13.5" height="0.78" fill="rgb(53,53,53)"/>
<rect x="1403.5" y="386.97" width="13.5" height="1.57" fill="#fff" opacity="0.07"/>
<rect x="1403.5" y="393.41" width="13.5" height="0.70" fill="rgb(40,40,40)"/>
<rect x="1403.5" y="392.05" width="13.5" height="1.37" fill="#fff" opacity="0.06"/>
<rect x="1403.5" y="397.53" width="13.5" height="0.70" fill="rgb(26,26,26)"/>
<rect x="1403.5" y="396.38" width="13.5" height="1.15" fill="#fff" opacity="0.05"/>
<rect x="1403.5" y="400.91" width="13.5" height="0.70" fill="rgb(18,18,18)"/>
<rect x="1403.5" y="399.99" width="13.5" height="0.92" fill="#fff" opacity="0.04"/>
<rect x="1403.5" y="403.50" width="13.5" height="0.70" fill="rgb(18,18,18)"/>
<rect x="1403.5" y="402.83" width="13.5" height="0.67" fill="#fff" opacity="0.03"/>
<rect x="1403.5" y="405.26" width="13.5" height="0.70" fill="rgb(18,18,18)"/>
<rect x="1403.5" y="404.85" width="13.5" height="0.41" fill="#fff" opacity="0.02"/>
<rect x="1096" y="419" width="125" height="20" fill="#fff"/><rect x="1096" y="419" width="124" height="19" fill="#808080"/><rect x="1097" y="420" width="123" height="18" fill="#dcdcdc"/><rect x="1098" y="421" width="121" height="16" fill="#1c1c1c"/>
<rect x="1099" y="422.5" width="119" height="13.5" fill="url(#wgh)"/>
<rect x="1099.21" y="422.5" width="0.70" height="13.5" fill="rgb(18,18,18)"/>
<rect x="1098.83" y="422.5" width="0.38" height="13.5" fill="#fff" opacity="0.02"/>
<rect x="1100.89" y="422.5" width="0.70" height="13.5" fill="rgb(18,18,18)"/>
<rect x="1100.25" y="422.5" width="0.64" height="13.5" fill="#fff" opacity="0.03"/>
<rect x="1103.40" y="422.5" width="0.70" height="13.5" fill="rgb(18,18,18)"/>
<rect x="1102.50" y="422.5" width="0.89" height="13.5" fill="#fff" opacity="0.04"/>
<rect x="1106.70" y="422.5" width="0.70" height="13.5" fill="rgb(25,25,25)"/>
<rect x="1105.57" y="422.5" width="1.13" height="13.5" fill="#fff" opacity="0.05"/>
<rect x="1110.74" y="422.5" width="0.70" height="13.5" fill="rgb(38,38,38)"/>
<rect x="1109.40" y="422.5" width="1.35" height="13.5" fill="#fff" opacity="0.06"/>
<rect x="1115.40" y="422.5" width="0.77" height="13.5" fill="rgb(52,52,52)"/>
<rect x="1113.85" y="422.5" width="1.55" height="13.5" fill="#fff" opacity="0.07"/>
<rect x="1120.66" y="422.5" width="0.86" height="13.5" fill="rgb(66,66,66)"/>
<rect x="1118.94" y="422.5" width="1.72" height="13.5" fill="#fff" opacity="0.08"/>
<rect x="1126.47" y="422.5" width="0.94" height="13.5" fill="rgb(78,78,78)"/>
<rect x="1127.41" y="422.5" width="1.15" height="13.5" fill="#fff" opacity="0.44"/>
<rect x="1124.60" y="422.5" width="1.88" height="13.5" fill="#fff" opacity="0.09"/>
<rect x="1132.75" y="422.5" width="1.00" height="13.5" fill="rgb(89,89,89)"/>
<rect x="1133.75" y="422.5" width="1.15" height="13.5" fill="#fff" opacity="0.91"/>
<rect x="1130.75" y="422.5" width="2.00" height="13.5" fill="#fff" opacity="0.09"/>
<rect x="1139.41" y="422.5" width="1.05" height="13.5" fill="rgb(98,98,98)"/>
<rect x="1140.46" y="422.5" width="1.15" height="13.5" fill="#fff" opacity="1.00"/>
<rect x="1137.31" y="422.5" width="2.10" height="13.5" fill="#fff" opacity="0.10"/>
<rect x="1146.34" y="422.5" width="1.08" height="13.5" fill="rgb(104,104,104)"/>
<rect x="1147.42" y="422.5" width="1.15" height="13.5" fill="#fff" opacity="1.00"/>
<rect x="1144.18" y="422.5" width="2.16" height="13.5" fill="#fff" opacity="0.10"/>
<rect x="1153.45" y="422.5" width="1.10" height="13.5" fill="rgb(107,107,107)"/>
<rect x="1154.55" y="422.5" width="1.15" height="13.5" fill="#fff" opacity="1.00"/>
<rect x="1151.26" y="422.5" width="2.20" height="13.5" fill="#fff" opacity="0.10"/>
<rect x="1160.64" y="422.5" width="1.10" height="13.5" fill="rgb(107,107,107)"/>
<rect x="1161.73" y="422.5" width="1.15" height="13.5" fill="#fff" opacity="1.00"/>
<rect x="1158.44" y="422.5" width="2.20" height="13.5" fill="#fff" opacity="0.10"/>
<rect x="1167.79" y="422.5" width="1.08" height="13.5" fill="rgb(104,104,104)"/>
<rect x="1168.87" y="422.5" width="1.15" height="13.5" fill="#fff" opacity="1.00"/>
<rect x="1165.62" y="422.5" width="2.17" height="13.5" fill="#fff" opacity="0.10"/>
<rect x="1174.81" y="422.5" width="1.05" height="13.5" fill="rgb(98,98,98)"/>
<rect x="1175.86" y="422.5" width="1.15" height="13.5" fill="#fff" opacity="1.00"/>
<rect x="1172.70" y="422.5" width="2.10" height="13.5" fill="#fff" opacity="0.10"/>
<rect x="1181.59" y="422.5" width="1.01" height="13.5" fill="rgb(90,90,90)"/>
<rect x="1182.59" y="422.5" width="1.15" height="13.5" fill="#fff" opacity="0.95"/>
<rect x="1179.57" y="422.5" width="2.01" height="13.5" fill="#fff" opacity="0.09"/>
<rect x="1188.03" y="422.5" width="0.94" height="13.5" fill="rgb(79,79,79)"/>
<rect x="1188.97" y="422.5" width="1.15" height="13.5" fill="#fff" opacity="0.49"/>
<rect x="1186.14" y="422.5" width="1.89" height="13.5" fill="#fff" opacity="0.09"/>
<rect x="1194.04" y="422.5" width="0.87" height="13.5" fill="rgb(67,67,67)"/>
<rect x="1192.30" y="422.5" width="1.74" height="13.5" fill="#fff" opacity="0.08"/>
<rect x="1199.54" y="422.5" width="0.78" height="13.5" fill="rgb(53,53,53)"/>
<rect x="1197.97" y="422.5" width="1.57" height="13.5" fill="#fff" opacity="0.07"/>
<rect x="1204.41" y="422.5" width="0.70" height="13.5" fill="rgb(40,40,40)"/>
<rect x="1203.05" y="422.5" width="1.37" height="13.5" fill="#fff" opacity="0.06"/>
<rect x="1208.53" y="422.5" width="0.70" height="13.5" fill="rgb(26,26,26)"/>
<rect x="1207.38" y="422.5" width="1.15" height="13.5" fill="#fff" opacity="0.05"/>
<rect x="1211.91" y="422.5" width="0.70" height="13.5" fill="rgb(18,18,18)"/>
<rect x="1210.99" y="422.5" width="0.92" height="13.5" fill="#fff" opacity="0.04"/>
<rect x="1214.50" y="422.5" width="0.70" height="13.5" fill="rgb(18,18,18)"/>
<rect x="1213.83" y="422.5" width="0.67" height="13.5" fill="#fff" opacity="0.03"/>
<rect x="1216.26" y="422.5" width="0.70" height="13.5" fill="rgb(18,18,18)"/>
<rect x="1215.85" y="422.5" width="0.41" height="13.5" fill="#fff" opacity="0.02"/>
</svg>
  <div class="ui" style="left:2px;top:410px;">Rotx</div>
  <div class="ui" style="left:33px;top:410px;">Roty</div>
  <div class="ui" style="left:371px;top:410px;">Dolly</div>
  <svg class="abs" style="left:360px;top:30px" width="40" height="240" viewBox="1390 43 40 240">
  <defs>
    <radialGradient id="sph" cx=".35" cy=".3" r=".8"><stop offset="0" stop-color="#e6e6e6"/><stop offset=".55" stop-color="#b4b4b4"/><stop offset="1" stop-color="#6c6c6c"/></radialGradient>
    <pattern id="chk2" width="2" height="2" patternUnits="userSpaceOnUse"><rect width="2" height="2" fill="#fff"/><rect width="1" height="1" fill="#e2e2e2"/><rect x="1" y="1" width="1" height="1" fill="#e2e2e2"/></pattern>
  </defs>
  <!-- icon 1: pick -->
  <g transform="translate(1390,44) scale(0.1411)">
    <g><circle cx="120" cy="90" r="46" fill="url(#sph)" stroke="#8a8a8a" stroke-width="4"/>
      <path d="M100 97 L150 80 L196 99 L150 120 Z" fill="#dedede" stroke="#777" stroke-width="3"/>
      <path d="M100 97 L150 120 L150 192 L100 162 Z" fill="#b4b4b4" stroke="#777" stroke-width="3"/>
      <path d="M150 120 L196 99 L196 166 L150 192 Z" fill="#8c8c8c" stroke="#666" stroke-width="3"/></g>
    <path d="M165 103 L165 182 L183 165 L198 200 L212 194 L197 160 L222 160 Z" fill="#000"/>
  </g>
  <!-- icon 2: view (pressed) -->
  <rect x="1395" y="77" width="30" height="30" fill="url(#chk2)" shape-rendering="crispEdges"/>
  <path d="M1395.5 107 V77.5 H1425" fill="none" stroke="#a0a0a0" stroke-width="1" shape-rendering="crispEdges"/>
  <path d="M1395.5 106.5 H1424.5 V77.5" fill="none" stroke="#fff" stroke-width="1" shape-rendering="crispEdges"/>
  <g transform="translate(1390,76.5) scale(0.1411)">
    <g><circle cx="120" cy="90" r="46" fill="url(#sph)" stroke="#8a8a8a" stroke-width="4"/>
      <path d="M100 97 L150 80 L196 99 L150 120 Z" fill="#dedede" stroke="#777" stroke-width="3"/>
      <path d="M100 97 L150 120 L150 192 L100 162 Z" fill="#b4b4b4" stroke="#777" stroke-width="3"/>
      <path d="M150 120 L196 99 L196 166 L150 192 Z" fill="#8c8c8c" stroke="#666" stroke-width="3"/></g>
    <g fill="#d42424" stroke="#7a1010" stroke-width="3" stroke-linejoin="round">
      <path d="M150 46 L172 80 L157 80 L157 115 L194 115 L194 100 L228 122 L194 144 L194 129 L157 129 L157 164 L172 164 L150 198 L128 164 L143 164 L143 129 L106 129 L106 144 L72 122 L106 100 L106 115 L143 115 L143 80 L128 80 Z"/>
    </g>
  </g>
  <!-- icon 3: home -->
  <g transform="translate(1390,104) scale(0.1411)">
    <g><path d="M66 102 L108 56 L160 76 L128 126 Z" fill="#8a8a8a" stroke="#5a5a5a" stroke-width="3"/>
      <path d="M66 102 L128 126 L128 172 L66 142 Z" fill="#a9a9a9" stroke="#666" stroke-width="3"/>
      <path d="M128 126 L160 76 L190 106 L190 150 L128 172 Z" fill="#dadada" stroke="#777" stroke-width="3"/>
      <path d="M150 128 L166 121 L166 158 L150 164 Z" fill="#4a4a4a"/></g>
    <path d="M158 144 L218 144 L204 162 L228 190 L206 210 L180 182 L158 204 Z" fill="#c40000" stroke="#5a0000" stroke-width="4" stroke-linejoin="round"/>
  </g>
  <!-- icon 4: set home -->
  <g transform="translate(1390,104) scale(0.1411)">
    <g transform="translate(14,205)"><g><path d="M66 102 L108 56 L160 76 L128 126 Z" fill="#8a8a8a" stroke="#5a5a5a" stroke-width="3"/>
      <path d="M66 102 L128 126 L128 172 L66 142 Z" fill="#a9a9a9" stroke="#666" stroke-width="3"/>
      <path d="M128 126 L160 76 L190 106 L190 150 L128 172 Z" fill="#dadada" stroke="#777" stroke-width="3"/>
      <path d="M150 128 L166 121 L166 158 L150 164 Z" fill="#4a4a4a"/></g></g>
    <path d="M98 378 L182 378 L140 422 Z" fill="#c40000" stroke="#5a0000" stroke-width="4" stroke-linejoin="round"/>
  </g>
  <!-- icon 5: view all -->
  <g transform="translate(1390,164) scale(0.1411)">
    <g transform="translate(4,8)"><g><circle cx="120" cy="90" r="46" fill="url(#sph)" stroke="#8a8a8a" stroke-width="4"/>
      <path d="M100 97 L150 80 L196 99 L150 120 Z" fill="#dedede" stroke="#777" stroke-width="3"/>
      <path d="M100 97 L150 120 L150 192 L100 162 Z" fill="#b4b4b4" stroke="#777" stroke-width="3"/>
      <path d="M150 120 L196 99 L196 166 L150 192 Z" fill="#8c8c8c" stroke="#666" stroke-width="3"/></g></g>
    <rect x="60" y="47" width="160" height="156" fill="none" stroke="#4a4a4a" stroke-width="11" stroke-dasharray="24 16" stroke-dashoffset="12"/>
  </g>
  <!-- icon 6: seek -->
  <g transform="translate(1390,164) scale(0.1411)" fill="none" stroke="#000">
    <circle cx="137" cy="335" r="54" stroke-width="6"/>
    <path d="M66 335 H118 M156 335 H208 M137 264 V316 M137 354 V406" stroke-width="6"/>
    <g fill="#000" stroke="none"><rect x="62" y="325" width="20" height="20"/><rect x="192" y="325" width="20" height="20"/><rect x="127" y="260" width="20" height="20"/><rect x="127" y="390" width="20" height="20"/></g>
  </g>
  <!-- icon 7: perspective -->
  <g transform="translate(1390,220) scale(0.1411)">
    <path d="M78 92 L140 72 L212 92 L150 124 Z" fill="#c6c6c6" stroke="#777" stroke-width="3"/>
    <path d="M78 92 L150 124 L150 232 L78 158 Z" fill="#9c9c9c" stroke="#666" stroke-width="3"/>
    <path d="M150 124 L212 92 L212 158 L150 232 Z" fill="#6c6c6c" stroke="#555" stroke-width="3"/>
  </g>
</svg>

</div>
</body></html>
